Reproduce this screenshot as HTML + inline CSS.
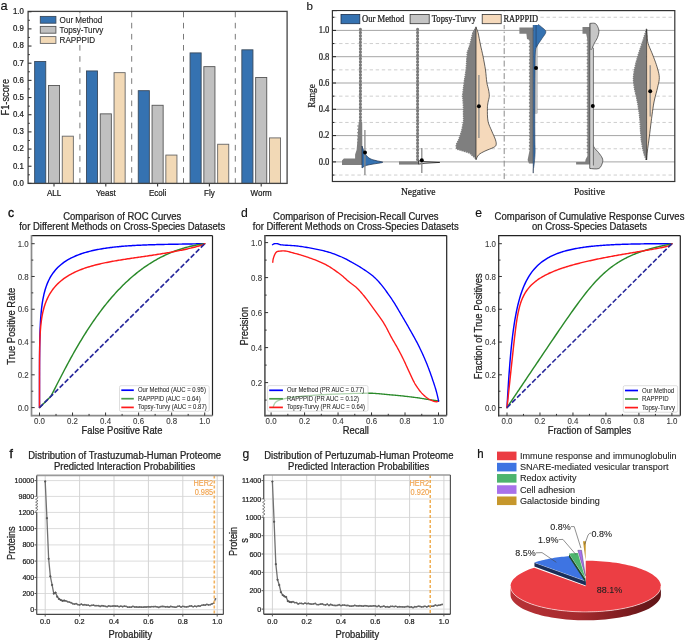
<!DOCTYPE html>
<html><head><meta charset="utf-8"><title>Figure</title>
<style>
html,body{margin:0;padding:0;background:#fff;}
body{width:685px;height:641px;overflow:hidden;font-family:"Liberation Sans", sans-serif;}
svg{display:block;will-change:transform;}
</style></head>
<body>
<svg width="685" height="641" viewBox="0 0 685 641">
<rect x="0" y="0" width="685" height="641" fill="#ffffff"/>
<text x="0.50" y="9.90" font-family="'Liberation Sans', sans-serif" font-size="12.8" text-anchor="start" fill="#111" stroke="#111" stroke-width="0.15" transform="translate(0.50 9.90) rotate(0) scale(1 1.05) translate(-0.50 -9.90)" >a</text>
<line x1="79.90" y1="11.70" x2="79.90" y2="183.40" stroke="#7a7a7a" stroke-width="1.0" stroke-dasharray="5.6 5.5"/>
<line x1="131.70" y1="11.70" x2="131.70" y2="183.40" stroke="#7a7a7a" stroke-width="1.0" stroke-dasharray="5.6 5.5"/>
<line x1="183.50" y1="11.70" x2="183.50" y2="183.40" stroke="#7a7a7a" stroke-width="1.0" stroke-dasharray="5.6 5.5"/>
<line x1="235.30" y1="11.70" x2="235.30" y2="183.40" stroke="#7a7a7a" stroke-width="1.0" stroke-dasharray="5.6 5.5"/>
<rect x="34.65" y="61.49" width="11.10" height="121.91" fill="#3572B1" stroke="#3a4a5c" stroke-width="0.9" />
<rect x="48.45" y="85.53" width="11.10" height="97.87" fill="#C0C0C0" stroke="#555" stroke-width="0.9" />
<rect x="62.25" y="136.18" width="11.10" height="47.22" fill="#F2D9B6" stroke="#666" stroke-width="0.9" />
<line x1="54.00" y1="183.40" x2="54.00" y2="186.60" stroke="#333" stroke-width="1.1" />
<text x="54.00" y="196.20" font-family="'Liberation Sans', sans-serif" font-size="8.0" text-anchor="middle" fill="#222" stroke="#222" stroke-width="0.22" transform="translate(54.00 196.20) rotate(0) scale(1 1.1) translate(-54.00 -196.20)" >ALL</text>
<rect x="86.45" y="70.94" width="11.10" height="112.46" fill="#3572B1" stroke="#3a4a5c" stroke-width="0.9" />
<rect x="100.25" y="113.86" width="11.10" height="69.54" fill="#C0C0C0" stroke="#555" stroke-width="0.9" />
<rect x="114.05" y="72.65" width="11.10" height="110.75" fill="#F2D9B6" stroke="#666" stroke-width="0.9" />
<line x1="105.80" y1="183.40" x2="105.80" y2="186.60" stroke="#333" stroke-width="1.1" />
<text x="105.80" y="196.20" font-family="'Liberation Sans', sans-serif" font-size="8.0" text-anchor="middle" fill="#222" stroke="#222" stroke-width="0.22" transform="translate(105.80 196.20) rotate(0) scale(1 1.1) translate(-105.80 -196.20)" >Yeast</text>
<rect x="138.25" y="90.68" width="11.10" height="92.72" fill="#3572B1" stroke="#3a4a5c" stroke-width="0.9" />
<rect x="152.05" y="105.28" width="11.10" height="78.12" fill="#C0C0C0" stroke="#555" stroke-width="0.9" />
<rect x="165.85" y="155.07" width="11.10" height="28.33" fill="#F2D9B6" stroke="#666" stroke-width="0.9" />
<line x1="157.60" y1="183.40" x2="157.60" y2="186.60" stroke="#333" stroke-width="1.1" />
<text x="157.60" y="196.20" font-family="'Liberation Sans', sans-serif" font-size="8.0" text-anchor="middle" fill="#222" stroke="#222" stroke-width="0.22" transform="translate(157.60 196.20) rotate(0) scale(1 1.1) translate(-157.60 -196.20)" >Ecoli</text>
<rect x="190.05" y="52.91" width="11.10" height="130.49" fill="#3572B1" stroke="#3a4a5c" stroke-width="0.9" />
<rect x="203.85" y="66.64" width="11.10" height="116.76" fill="#C0C0C0" stroke="#555" stroke-width="0.9" />
<rect x="217.65" y="144.25" width="11.10" height="39.15" fill="#F2D9B6" stroke="#666" stroke-width="0.9" />
<line x1="209.40" y1="183.40" x2="209.40" y2="186.60" stroke="#333" stroke-width="1.1" />
<text x="209.40" y="196.20" font-family="'Liberation Sans', sans-serif" font-size="8.0" text-anchor="middle" fill="#222" stroke="#222" stroke-width="0.22" transform="translate(209.40 196.20) rotate(0) scale(1 1.1) translate(-209.40 -196.20)" >Fly</text>
<rect x="241.85" y="49.82" width="11.10" height="133.58" fill="#3572B1" stroke="#3a4a5c" stroke-width="0.9" />
<rect x="255.65" y="77.46" width="11.10" height="105.94" fill="#C0C0C0" stroke="#555" stroke-width="0.9" />
<rect x="269.45" y="137.90" width="11.10" height="45.50" fill="#F2D9B6" stroke="#666" stroke-width="0.9" />
<line x1="261.20" y1="183.40" x2="261.20" y2="186.60" stroke="#333" stroke-width="1.1" />
<text x="261.20" y="196.20" font-family="'Liberation Sans', sans-serif" font-size="8.0" text-anchor="middle" fill="#222" stroke="#222" stroke-width="0.22" transform="translate(261.20 196.20) rotate(0) scale(1 1.1) translate(-261.20 -196.20)" >Worm</text>
<rect x="28.10" y="11.40" width="259.00" height="172.00" fill="none" stroke="#444" stroke-width="1.3" />
<line x1="28.10" y1="183.40" x2="31.50" y2="183.40" stroke="#333" stroke-width="1.1" />
<text x="23.90" y="185.80" font-family="'Liberation Sans', sans-serif" font-size="7.85" text-anchor="end" fill="#222" stroke="#222" stroke-width="0.22" transform="translate(23.90 185.80) rotate(0) scale(1 1.1) translate(-23.90 -185.80)" >0.0</text>
<line x1="28.10" y1="166.23" x2="31.50" y2="166.23" stroke="#333" stroke-width="1.1" />
<text x="23.90" y="168.63" font-family="'Liberation Sans', sans-serif" font-size="7.85" text-anchor="end" fill="#222" stroke="#222" stroke-width="0.22" transform="translate(23.90 168.63) rotate(0) scale(1 1.1) translate(-23.90 -168.63)" >0.1</text>
<line x1="28.10" y1="149.06" x2="31.50" y2="149.06" stroke="#333" stroke-width="1.1" />
<text x="23.90" y="151.46" font-family="'Liberation Sans', sans-serif" font-size="7.85" text-anchor="end" fill="#222" stroke="#222" stroke-width="0.22" transform="translate(23.90 151.46) rotate(0) scale(1 1.1) translate(-23.90 -151.46)" >0.2</text>
<line x1="28.10" y1="131.89" x2="31.50" y2="131.89" stroke="#333" stroke-width="1.1" />
<text x="23.90" y="134.29" font-family="'Liberation Sans', sans-serif" font-size="7.85" text-anchor="end" fill="#222" stroke="#222" stroke-width="0.22" transform="translate(23.90 134.29) rotate(0) scale(1 1.1) translate(-23.90 -134.29)" >0.3</text>
<line x1="28.10" y1="114.72" x2="31.50" y2="114.72" stroke="#333" stroke-width="1.1" />
<text x="23.90" y="117.12" font-family="'Liberation Sans', sans-serif" font-size="7.85" text-anchor="end" fill="#222" stroke="#222" stroke-width="0.22" transform="translate(23.90 117.12) rotate(0) scale(1 1.1) translate(-23.90 -117.12)" >0.4</text>
<line x1="28.10" y1="97.55" x2="31.50" y2="97.55" stroke="#333" stroke-width="1.1" />
<text x="23.90" y="99.95" font-family="'Liberation Sans', sans-serif" font-size="7.85" text-anchor="end" fill="#222" stroke="#222" stroke-width="0.22" transform="translate(23.90 99.95) rotate(0) scale(1 1.1) translate(-23.90 -99.95)" >0.5</text>
<line x1="28.10" y1="80.38" x2="31.50" y2="80.38" stroke="#333" stroke-width="1.1" />
<text x="23.90" y="82.78" font-family="'Liberation Sans', sans-serif" font-size="7.85" text-anchor="end" fill="#222" stroke="#222" stroke-width="0.22" transform="translate(23.90 82.78) rotate(0) scale(1 1.1) translate(-23.90 -82.78)" >0.6</text>
<line x1="28.10" y1="63.21" x2="31.50" y2="63.21" stroke="#333" stroke-width="1.1" />
<text x="23.90" y="65.61" font-family="'Liberation Sans', sans-serif" font-size="7.85" text-anchor="end" fill="#222" stroke="#222" stroke-width="0.22" transform="translate(23.90 65.61) rotate(0) scale(1 1.1) translate(-23.90 -65.61)" >0.7</text>
<line x1="28.10" y1="46.04" x2="31.50" y2="46.04" stroke="#333" stroke-width="1.1" />
<text x="23.90" y="48.44" font-family="'Liberation Sans', sans-serif" font-size="7.85" text-anchor="end" fill="#222" stroke="#222" stroke-width="0.22" transform="translate(23.90 48.44) rotate(0) scale(1 1.1) translate(-23.90 -48.44)" >0.8</text>
<line x1="28.10" y1="28.87" x2="31.50" y2="28.87" stroke="#333" stroke-width="1.1" />
<text x="23.90" y="31.27" font-family="'Liberation Sans', sans-serif" font-size="7.85" text-anchor="end" fill="#222" stroke="#222" stroke-width="0.22" transform="translate(23.90 31.27) rotate(0) scale(1 1.1) translate(-23.90 -31.27)" >0.9</text>
<line x1="28.10" y1="11.70" x2="31.50" y2="11.70" stroke="#333" stroke-width="1.1" />
<text x="23.90" y="14.10" font-family="'Liberation Sans', sans-serif" font-size="7.85" text-anchor="end" fill="#222" stroke="#222" stroke-width="0.22" transform="translate(23.90 14.10) rotate(0) scale(1 1.1) translate(-23.90 -14.10)" >1.0</text>
<line x1="28.10" y1="174.81" x2="29.90" y2="174.81" stroke="#333" stroke-width="1.0" />
<line x1="28.10" y1="157.65" x2="29.90" y2="157.65" stroke="#333" stroke-width="1.0" />
<line x1="28.10" y1="140.47" x2="29.90" y2="140.47" stroke="#333" stroke-width="1.0" />
<line x1="28.10" y1="123.31" x2="29.90" y2="123.31" stroke="#333" stroke-width="1.0" />
<line x1="28.10" y1="106.13" x2="29.90" y2="106.13" stroke="#333" stroke-width="1.0" />
<line x1="28.10" y1="88.96" x2="29.90" y2="88.96" stroke="#333" stroke-width="1.0" />
<line x1="28.10" y1="71.79" x2="29.90" y2="71.79" stroke="#333" stroke-width="1.0" />
<line x1="28.10" y1="54.62" x2="29.90" y2="54.62" stroke="#333" stroke-width="1.0" />
<line x1="28.10" y1="37.45" x2="29.90" y2="37.45" stroke="#333" stroke-width="1.0" />
<line x1="28.10" y1="20.28" x2="29.90" y2="20.28" stroke="#333" stroke-width="1.0" />
<text x="9.20" y="97.20" font-family="'Liberation Sans', sans-serif" font-size="9.3" text-anchor="middle" fill="#222" stroke="#222" stroke-width="0.22" transform="translate(9.20 97.20) rotate(-90) scale(1 1.1) translate(-9.20 -97.20)" >F1-score</text>
<rect x="37.00" y="13.00" width="70.00" height="31.50" fill="#ffffff" stroke="none" stroke-width="1" fill-opacity="0.6"/>
<rect x="40.30" y="16.40" width="15.60" height="6.80" fill="#3572B1" stroke="#3a4a5c" stroke-width="0.9" />
<text x="59.60" y="23.00" font-family="'Liberation Sans', sans-serif" font-size="8.1" text-anchor="start" fill="#222" stroke="#222" stroke-width="0.12" transform="translate(59.60 23.00) rotate(0) scale(1 1.1) translate(-59.60 -23.00)" >Our Method</text>
<rect x="40.30" y="26.40" width="15.60" height="6.80" fill="#C0C0C0" stroke="#555" stroke-width="0.9" />
<text x="59.60" y="33.00" font-family="'Liberation Sans', sans-serif" font-size="8.1" text-anchor="start" fill="#222" stroke="#222" stroke-width="0.12" transform="translate(59.60 33.00) rotate(0) scale(1 1.1) translate(-59.60 -33.00)" >Topsy-Turvy</text>
<rect x="40.30" y="36.60" width="15.60" height="6.80" fill="#F2D9B6" stroke="#666" stroke-width="0.9" />
<text x="59.60" y="43.20" font-family="'Liberation Sans', sans-serif" font-size="8.1" text-anchor="start" fill="#222" stroke="#222" stroke-width="0.12" transform="translate(59.60 43.20) rotate(0) scale(1 1.1) translate(-59.60 -43.20)" >RAPPPID</text>
<text x="306.40" y="9.80" font-family="'Liberation Sans', sans-serif" font-size="11.6" text-anchor="start" fill="#111" stroke="#111" stroke-width="0.1" transform="translate(306.40 9.80) rotate(0) scale(1 1.0) translate(-306.40 -9.80)" >b</text>
<line x1="332.40" y1="161.90" x2="674.80" y2="161.90" stroke="#a5a5a5" stroke-width="1.0" />
<line x1="332.40" y1="135.60" x2="674.80" y2="135.60" stroke="#a5a5a5" stroke-width="1.0" />
<line x1="332.40" y1="109.30" x2="674.80" y2="109.30" stroke="#a5a5a5" stroke-width="1.0" />
<line x1="332.40" y1="83.00" x2="674.80" y2="83.00" stroke="#a5a5a5" stroke-width="1.0" />
<line x1="332.40" y1="56.70" x2="674.80" y2="56.70" stroke="#a5a5a5" stroke-width="1.0" />
<line x1="332.40" y1="30.40" x2="674.80" y2="30.40" stroke="#a5a5a5" stroke-width="1.0" />
<line x1="332.40" y1="175.05" x2="674.80" y2="175.05" stroke="#cfcfcf" stroke-width="1.0" stroke-dasharray="3.4 2.7" stroke-dashoffset="-0.6"/>
<line x1="332.40" y1="148.75" x2="674.80" y2="148.75" stroke="#cfcfcf" stroke-width="1.0" stroke-dasharray="3.4 2.7" stroke-dashoffset="-0.6"/>
<line x1="332.40" y1="122.45" x2="674.80" y2="122.45" stroke="#cfcfcf" stroke-width="1.0" stroke-dasharray="3.4 2.7" stroke-dashoffset="-0.6"/>
<line x1="332.40" y1="96.15" x2="674.80" y2="96.15" stroke="#cfcfcf" stroke-width="1.0" stroke-dasharray="3.4 2.7" stroke-dashoffset="-0.6"/>
<line x1="332.40" y1="69.85" x2="674.80" y2="69.85" stroke="#cfcfcf" stroke-width="1.0" stroke-dasharray="3.4 2.7" stroke-dashoffset="-0.6"/>
<line x1="332.40" y1="43.55" x2="674.80" y2="43.55" stroke="#cfcfcf" stroke-width="1.0" stroke-dasharray="3.4 2.7" stroke-dashoffset="-0.6"/>
<line x1="332.40" y1="17.25" x2="674.80" y2="17.25" stroke="#cfcfcf" stroke-width="1.0" stroke-dasharray="3.4 2.7" stroke-dashoffset="-0.6"/>
<line x1="504.20" y1="10.60" x2="504.20" y2="181.50" stroke="#8a8a8a" stroke-width="1.0" stroke-dasharray="6 2.5 1.5 2.5"/>
<line x1="360.40" y1="29.20" x2="360.40" y2="152.00" stroke="#8a8a8a" stroke-width="1.8" />
<line x1="360.40" y1="29.20" x2="360.40" y2="152.00" stroke="#7a7a7a" stroke-width="3.1" stroke-dasharray="0.01 3.25" stroke-linecap="round"/>
<polygon points="342.00,164.90 342.00,160.50 343.90,158.40 355.10,158.40 355.10,154.60 356.60,150.00 357.50,140.00 358.20,128.00 358.80,122.00 362.20,122.00 362.40,164.90" fill="#7f7f7f" stroke="none" stroke-width="1" stroke-linejoin="round" />
<line x1="358.00" y1="126.00" x2="358.00" y2="152.00" stroke="#7f7f7f" stroke-width="1.6" stroke-dasharray="0.01 3.3" stroke-linecap="round"/>
<polygon points="362.00,146.00 362.15,146.42 362.35,147.00 362.59,147.69 362.87,148.44 363.17,149.23 363.50,150.00 363.84,150.79 364.20,151.64 364.59,152.53 365.02,153.40 365.48,154.24 366.00,155.00 366.56,155.70 367.15,156.36 367.78,156.99 368.46,157.57 369.20,158.11 370.00,158.60 370.87,159.03 371.82,159.40 372.82,159.72 373.87,160.02 374.93,160.31 376.00,160.60 377.24,160.89 378.71,161.17 380.20,161.44 381.51,161.70 382.44,161.95 382.80,162.20 382.46,162.45 381.55,162.69 380.26,162.92 378.79,163.16 377.30,163.38 376.00,163.60 374.81,163.81 373.57,164.01 372.32,164.21 371.12,164.41 370.00,164.60 369.00,164.80 368.15,164.99 367.41,165.17 366.75,165.35 366.15,165.54 365.57,165.75 365.00,166.00 364.41,166.31 363.81,166.68 363.25,167.07 362.74,167.45 362.31,167.77 362.00,168.00" fill="#3572B1" stroke="#1d2f4a" stroke-width="0.7" stroke-linejoin="round" />
<line x1="364.90" y1="130.00" x2="364.90" y2="175.00" stroke="#8a8a8a" stroke-width="1.3" />
<circle cx="365.0" cy="152.6" r="2.0" fill="#000"/>
<line x1="417.60" y1="29.20" x2="417.60" y2="160.00" stroke="#8a8a8a" stroke-width="1.8" />
<line x1="417.60" y1="29.20" x2="417.60" y2="160.00" stroke="#7a7a7a" stroke-width="3.1" stroke-dasharray="0.01 3.25" stroke-linecap="round"/>
<polygon points="399.00,161.40 418.50,161.40 418.50,164.60 399.00,164.60" fill="#7f7f7f" stroke="none" stroke-width="1" stroke-linejoin="round" />
<polygon points="418.50,160.80 425.00,161.60 439.80,162.40 425.00,163.30 418.50,164.20" fill="#c8c8c8" stroke="#111" stroke-width="0.7" stroke-linejoin="round" />
<line x1="421.80" y1="148.00" x2="421.80" y2="173.00" stroke="#8a8a8a" stroke-width="1.3" />
<circle cx="421.8" cy="160.3" r="2.0" fill="#000"/>
<polygon points="476.00,27.50 473.00,32.50 470.00,45.00 467.40,52.40 466.20,70.00 464.30,82.30 462.80,94.80 463.50,105.00 463.70,121.00 461.80,131.00 458.70,140.00 456.20,145.00 456.80,149.00 463.70,151.00 469.90,153.00 473.00,156.00 476.00,158.50" fill="#7f7f7f" stroke="none" stroke-width="1" stroke-linejoin="round" />
<polyline points="476.00,27.50 473.00,32.50 470.00,45.00 467.40,52.40 466.20,70.00 464.30,82.30 462.80,94.80 463.50,105.00 463.70,121.00 461.80,131.00 458.70,140.00 456.20,145.00 456.80,149.00 463.70,151.00 469.90,153.00 473.00,156.00 476.00,158.50" fill="none" stroke="#7f7f7f" stroke-width="1.8" stroke-dasharray="0.01 2.2" stroke-linecap="round"/>
<polygon points="476.00,27.50 476.35,28.22 476.84,29.22 477.42,30.61 478.00,32.50 478.59,35.13 479.22,38.36 479.86,41.79 480.50,45.00 481.12,47.83 481.75,50.52 482.38,53.25 483.00,56.20 483.65,59.50 484.32,63.03 484.96,66.59 485.50,70.00 485.90,73.29 486.19,76.53 486.47,79.58 486.80,82.30 487.24,84.58 487.74,86.53 488.22,88.29 488.60,90.00 488.90,91.65 489.14,93.19 489.29,94.68 489.30,96.20 489.10,97.77 488.73,99.35 488.32,100.93 488.00,102.50 487.77,103.91 487.58,105.21 487.45,106.71 487.40,108.70 487.39,111.44 487.42,114.72 487.60,118.11 488.00,121.20 488.73,123.88 489.71,126.38 490.78,128.76 491.80,131.10 492.80,133.47 493.85,135.81 494.80,137.99 495.50,139.90 495.94,141.48 496.19,142.79 496.24,143.91 496.10,144.90 495.84,145.67 495.43,146.23 494.73,146.75 493.60,147.40 491.80,148.24 489.48,149.18 487.04,150.15 484.90,151.10 483.09,151.99 481.42,152.87 479.95,153.78 478.70,154.80 477.72,156.08 476.96,157.53 476.40,158.87 476.00,159.80" fill="#F5D9BB" stroke="#222" stroke-width="0.7" stroke-linejoin="round" />
<line x1="478.90" y1="75.00" x2="478.90" y2="138.00" stroke="#8a8a8a" stroke-width="1.3" />
<circle cx="478.9" cy="106.3" r="2.0" fill="#000"/>
<polygon points="519.40,27.50 533.20,27.50 533.20,163.50 529.00,163.50 527.60,160.00 528.40,156.00 529.60,150.00 529.60,40.00 527.00,39.00 526.40,33.70 519.40,33.70" fill="#7f7f7f" stroke="none" stroke-width="1" stroke-linejoin="round" />
<line x1="529.60" y1="40.00" x2="529.60" y2="152.00" stroke="#7f7f7f" stroke-width="1.6" stroke-dasharray="0.01 3.3" stroke-linecap="round"/>
<rect x="534.60" y="24.00" width="2.60" height="89.30" fill="#c6c6c6" stroke="#9a9a9a" stroke-width="0.4" />
<polygon points="533.20,23.90 533.87,23.83 534.82,23.71 535.91,23.68 537.00,23.90 538.08,24.42 539.21,25.15 540.37,26.03 541.50,27.00 542.80,28.04 544.22,29.18 545.39,30.43 545.90,31.80 545.53,33.32 544.54,34.97 543.25,36.71 542.00,38.50 540.75,40.40 539.36,42.41 538.04,44.39 537.00,46.20 536.33,47.50 535.91,48.46 535.64,49.74 535.40,52.00 535.21,55.13 535.11,58.86 535.06,63.67 535.00,70.00 534.93,78.69 534.87,89.25 534.82,100.19 534.80,110.00 534.80,118.62 534.82,126.75 534.86,134.00 534.90,140.00 534.96,144.31 535.05,147.25 535.11,149.56 535.10,152.00 535.00,154.72 534.83,157.34 534.62,159.79 534.40,162.00 534.15,164.22 533.87,166.41 533.60,168.01 533.40,168.50 533.29,170.41 533.24,173.12 533.22,171.41 533.20,160.00 533.19,131.88 533.19,91.72 533.20,51.82 533.20,24.50" fill="#3572B1" stroke="#1d2f4a" stroke-width="0.55" stroke-linejoin="round" />
<line x1="536.10" y1="24.50" x2="536.10" y2="47.00" stroke="#1d2f4a" stroke-width="0.5" />
<circle cx="536.0" cy="67.9" r="2.0" fill="#000"/>
<polygon points="582.50,27.10 589.80,27.10 589.80,164.60 576.10,164.60 576.10,162.00 585.20,162.00 585.60,159.50 587.40,156.00 587.40,40.00 586.20,33.70 582.50,33.70" fill="#7f7f7f" stroke="none" stroke-width="1" stroke-linejoin="round" />
<line x1="587.40" y1="40.00" x2="587.40" y2="155.00" stroke="#7f7f7f" stroke-width="1.6" stroke-dasharray="0.01 3.3" stroke-linecap="round"/>
<polygon points="589.90,23.40 590.88,23.33 592.29,23.21 593.78,23.18 595.00,23.40 595.86,23.91 596.54,24.64 597.10,25.53 597.60,26.50 598.08,27.57 598.50,28.76 598.80,30.05 598.90,31.40 598.78,32.85 598.47,34.41 598.03,35.99 597.50,37.50 596.85,38.92 596.06,40.29 595.24,41.64 594.50,43.00 593.85,44.35 593.23,45.69 592.67,47.05 592.20,48.50 591.84,49.62 591.57,50.53 591.36,52.05 591.20,55.00 591.09,59.60 591.04,65.41 591.02,72.26 591.00,80.00 590.98,89.51 590.97,100.56 590.97,111.34 591.00,120.00 591.00,125.81 591.00,129.84 591.07,132.94 591.30,136.00 591.70,139.14 592.22,141.93 592.88,144.41 593.70,146.60 594.76,148.41 596.02,149.87 597.32,151.16 598.50,152.50 599.58,153.93 600.63,155.34 601.54,156.70 602.20,158.00 602.61,159.16 602.81,160.22 602.78,161.29 602.50,162.50 602.00,164.04 601.28,165.78 600.27,167.39 598.90,168.50 596.82,168.92 594.17,168.88 591.64,168.64 589.90,168.50" fill="#C6C6C6" stroke="#333" stroke-width="0.7" stroke-linejoin="round" />
<rect x="590.00" y="50.00" width="3.60" height="118.00" fill="#d0d0d0" stroke="none" stroke-width="1" />
<line x1="593.40" y1="47.80" x2="593.40" y2="165.50" stroke="#555" stroke-width="0.8" />
<line x1="589.90" y1="23.60" x2="589.90" y2="168.40" stroke="#555" stroke-width="0.6" />
<circle cx="592.8" cy="105.9" r="2.0" fill="#000"/>
<polygon points="646.50,29.50 646.15,30.65 645.64,32.29 645.07,34.16 644.50,36.00 643.98,37.69 643.47,39.38 642.89,41.23 642.20,43.40 641.32,46.02 640.30,48.98 639.26,52.07 638.30,55.10 637.43,58.05 636.61,61.02 635.85,63.95 635.20,66.80 634.64,69.53 634.15,72.17 633.79,74.78 633.60,77.40 633.60,79.95 633.76,82.43 634.06,85.02 634.50,87.90 635.14,91.12 635.96,94.58 636.83,98.23 637.60,102.00 638.26,105.89 638.87,109.92 639.42,114.09 639.90,118.40 640.25,123.00 640.50,127.85 640.75,132.62 641.10,137.00 641.58,140.94 642.14,144.60 642.76,147.96 643.40,151.00 644.15,153.81 644.99,156.38 645.76,158.50 646.30,160.00 646.60,160.00 646.60,29.50" fill="#7f7f7f" stroke="none" stroke-width="1" stroke-linejoin="round" />
<polyline points="646.50,29.50 646.15,30.65 645.64,32.29 645.07,34.16 644.50,36.00 643.98,37.69 643.47,39.38 642.89,41.23 642.20,43.40 641.32,46.02 640.30,48.98 639.26,52.07 638.30,55.10 637.43,58.05 636.61,61.02 635.85,63.95 635.20,66.80 634.64,69.53 634.15,72.17 633.79,74.78 633.60,77.40 633.60,79.95 633.76,82.43 634.06,85.02 634.50,87.90 635.14,91.12 635.96,94.58 636.83,98.23 637.60,102.00 638.26,105.89 638.87,109.92 639.42,114.09 639.90,118.40 640.25,123.00 640.50,127.85 640.75,132.62 641.10,137.00 641.58,140.94 642.14,144.60 642.76,147.96 643.40,151.00 644.15,153.81 644.99,156.38 645.76,158.50 646.30,160.00" fill="none" stroke="#7f7f7f" stroke-width="1.8" stroke-dasharray="0.01 2.2" stroke-linecap="round"/>
<polygon points="646.60,29.50 646.68,30.37 646.78,31.59 646.91,33.02 647.05,34.54 647.20,36.00 647.30,37.35 647.36,38.69 647.45,40.09 647.67,41.63 648.10,43.40 648.80,45.46 649.73,47.77 650.77,50.21 651.83,52.69 652.80,55.10 653.70,57.46 654.61,59.83 655.48,62.20 656.29,64.53 657.00,66.80 657.65,68.99 658.25,71.12 658.77,73.22 659.13,75.30 659.30,77.40 659.23,79.45 658.96,81.43 658.54,83.45 658.03,85.57 657.50,87.90 656.89,90.45 656.17,93.17 655.40,96.02 654.66,98.98 654.00,102.00 653.45,105.10 652.96,108.29 652.50,111.57 652.06,114.94 651.60,118.40 651.13,122.05 650.65,125.90 650.19,129.79 649.73,133.54 649.30,137.00 648.88,140.17 648.46,143.17 648.06,145.98 647.70,148.59 647.40,151.00 647.16,153.26 646.96,155.39 646.81,157.29 646.69,158.86 646.60,160.00" fill="#F5D9BB" stroke="#222" stroke-width="0.7" stroke-linejoin="round" />
<line x1="650.20" y1="65.20" x2="650.20" y2="116.40" stroke="#8a8a8a" stroke-width="1.3" />
<circle cx="650.2" cy="91.3" r="2.0" fill="#000"/>
<rect x="332.40" y="10.60" width="342.40" height="170.90" fill="none" stroke="#333" stroke-width="1.2" />
<line x1="332.40" y1="175.05" x2="334.40" y2="175.05" stroke="#222" stroke-width="1.0" />
<line x1="332.40" y1="161.90" x2="336.00" y2="161.90" stroke="#222" stroke-width="1.0" />
<text x="329.40" y="164.80" font-family="'Liberation Serif', serif" font-size="8.6" text-anchor="end" fill="#222" stroke="#222" stroke-width="0.22" transform="translate(329.40 164.80) rotate(0) scale(1 1.1) translate(-329.40 -164.80)" >0.0</text>
<line x1="332.40" y1="148.75" x2="334.40" y2="148.75" stroke="#222" stroke-width="1.0" />
<line x1="332.40" y1="135.60" x2="336.00" y2="135.60" stroke="#222" stroke-width="1.0" />
<text x="329.40" y="138.50" font-family="'Liberation Serif', serif" font-size="8.6" text-anchor="end" fill="#222" stroke="#222" stroke-width="0.22" transform="translate(329.40 138.50) rotate(0) scale(1 1.1) translate(-329.40 -138.50)" >0.2</text>
<line x1="332.40" y1="122.45" x2="334.40" y2="122.45" stroke="#222" stroke-width="1.0" />
<line x1="332.40" y1="109.30" x2="336.00" y2="109.30" stroke="#222" stroke-width="1.0" />
<text x="329.40" y="112.20" font-family="'Liberation Serif', serif" font-size="8.6" text-anchor="end" fill="#222" stroke="#222" stroke-width="0.22" transform="translate(329.40 112.20) rotate(0) scale(1 1.1) translate(-329.40 -112.20)" >0.4</text>
<line x1="332.40" y1="96.15" x2="334.40" y2="96.15" stroke="#222" stroke-width="1.0" />
<line x1="332.40" y1="83.00" x2="336.00" y2="83.00" stroke="#222" stroke-width="1.0" />
<text x="329.40" y="85.90" font-family="'Liberation Serif', serif" font-size="8.6" text-anchor="end" fill="#222" stroke="#222" stroke-width="0.22" transform="translate(329.40 85.90) rotate(0) scale(1 1.1) translate(-329.40 -85.90)" >0.6</text>
<line x1="332.40" y1="69.85" x2="334.40" y2="69.85" stroke="#222" stroke-width="1.0" />
<line x1="332.40" y1="56.70" x2="336.00" y2="56.70" stroke="#222" stroke-width="1.0" />
<text x="329.40" y="59.60" font-family="'Liberation Serif', serif" font-size="8.6" text-anchor="end" fill="#222" stroke="#222" stroke-width="0.22" transform="translate(329.40 59.60) rotate(0) scale(1 1.1) translate(-329.40 -59.60)" >0.8</text>
<line x1="332.40" y1="43.55" x2="334.40" y2="43.55" stroke="#222" stroke-width="1.0" />
<line x1="332.40" y1="30.40" x2="336.00" y2="30.40" stroke="#222" stroke-width="1.0" />
<text x="329.40" y="33.30" font-family="'Liberation Serif', serif" font-size="8.6" text-anchor="end" fill="#222" stroke="#222" stroke-width="0.22" transform="translate(329.40 33.30) rotate(0) scale(1 1.1) translate(-329.40 -33.30)" >1.0</text>
<line x1="332.40" y1="17.25" x2="334.40" y2="17.25" stroke="#222" stroke-width="1.0" />
<text x="315.40" y="96.00" font-family="'Liberation Serif', serif" font-size="9.3" text-anchor="middle" fill="#222" stroke="#222" stroke-width="0.22" transform="translate(315.40 96.00) rotate(-90) scale(1 1.1) translate(-315.40 -96.00)" >Range</text>
<text x="418.20" y="195.10" font-family="'Liberation Serif', serif" font-size="9.6" text-anchor="middle" fill="#222" stroke="#222" stroke-width="0.22" transform="translate(418.20 195.10) rotate(0) scale(1 1.1) translate(-418.20 -195.10)" >Negative</text>
<text x="589.50" y="195.10" font-family="'Liberation Serif', serif" font-size="9.6" text-anchor="middle" fill="#222" stroke="#222" stroke-width="0.22" transform="translate(589.50 195.10) rotate(0) scale(1 1.1) translate(-589.50 -195.10)" >Positive</text>
<rect x="337.00" y="11.40" width="201.00" height="13.60" fill="#ffffff" stroke="none" stroke-width="1" />
<rect x="341.00" y="14.40" width="18.80" height="9.30" fill="#3572B1" stroke="#1d2f4a" stroke-width="0.8" />
<text x="362.00" y="22.30" font-family="'Liberation Serif', serif" font-size="8.6" text-anchor="start" fill="#222" stroke="#222" stroke-width="0.22" transform="translate(362.00 22.30) rotate(0) scale(1 1.1) translate(-362.00 -22.30)" >Our Method</text>
<rect x="410.10" y="14.40" width="19.10" height="9.30" fill="#C4C4C4" stroke="#333" stroke-width="0.8" />
<text x="431.70" y="22.30" font-family="'Liberation Serif', serif" font-size="8.6" text-anchor="start" fill="#222" stroke="#222" stroke-width="0.22" transform="translate(431.70 22.30) rotate(0) scale(1 1.1) translate(-431.70 -22.30)" >Topsy-Turvy</text>
<rect x="482.20" y="14.40" width="19.00" height="9.30" fill="#F5D9BB" stroke="#333" stroke-width="0.8" />
<text x="503.40" y="22.30" font-family="'Liberation Serif', serif" font-size="8.45" text-anchor="start" fill="#222" stroke="#222" stroke-width="0.22" transform="translate(503.40 22.30) rotate(0) scale(1 1.1) translate(-503.40 -22.30)" >RAPPPID</text>
<line x1="31.50" y1="235.60" x2="212.50" y2="235.60" stroke="#222" stroke-width="1.2" />
<line x1="212.50" y1="235.60" x2="212.50" y2="415.70" stroke="#222" stroke-width="1.2" />
<line x1="31.50" y1="415.70" x2="212.50" y2="415.70" stroke="#8a8a8a" stroke-width="1.7" />
<line x1="31.50" y1="235.10" x2="31.50" y2="416.55" stroke="#8a8a8a" stroke-width="1.7" />
<line x1="39.50" y1="415.70" x2="39.50" y2="412.50" stroke="#333" stroke-width="1.0" />
<text x="39.50" y="424.30" font-family="'Liberation Sans', sans-serif" font-size="7.9" text-anchor="middle" fill="#3a3a3a" stroke="#3a3a3a" stroke-width="0.1" transform="translate(39.50 424.30) rotate(0) scale(1 1.1) translate(-39.50 -424.30)" >0.0</text>
<line x1="56.02" y1="415.70" x2="56.02" y2="413.90" stroke="#333" stroke-width="1.0" />
<line x1="72.54" y1="415.70" x2="72.54" y2="412.50" stroke="#333" stroke-width="1.0" />
<text x="72.54" y="424.30" font-family="'Liberation Sans', sans-serif" font-size="7.9" text-anchor="middle" fill="#3a3a3a" stroke="#3a3a3a" stroke-width="0.1" transform="translate(72.54 424.30) rotate(0) scale(1 1.1) translate(-72.54 -424.30)" >0.2</text>
<line x1="89.06" y1="415.70" x2="89.06" y2="413.90" stroke="#333" stroke-width="1.0" />
<line x1="105.58" y1="415.70" x2="105.58" y2="412.50" stroke="#333" stroke-width="1.0" />
<text x="105.58" y="424.30" font-family="'Liberation Sans', sans-serif" font-size="7.9" text-anchor="middle" fill="#3a3a3a" stroke="#3a3a3a" stroke-width="0.1" transform="translate(105.58 424.30) rotate(0) scale(1 1.1) translate(-105.58 -424.30)" >0.4</text>
<line x1="122.10" y1="415.70" x2="122.10" y2="413.90" stroke="#333" stroke-width="1.0" />
<line x1="138.62" y1="415.70" x2="138.62" y2="412.50" stroke="#333" stroke-width="1.0" />
<text x="138.62" y="424.30" font-family="'Liberation Sans', sans-serif" font-size="7.9" text-anchor="middle" fill="#3a3a3a" stroke="#3a3a3a" stroke-width="0.1" transform="translate(138.62 424.30) rotate(0) scale(1 1.1) translate(-138.62 -424.30)" >0.6</text>
<line x1="155.14" y1="415.70" x2="155.14" y2="413.90" stroke="#333" stroke-width="1.0" />
<line x1="171.66" y1="415.70" x2="171.66" y2="412.50" stroke="#333" stroke-width="1.0" />
<text x="171.66" y="424.30" font-family="'Liberation Sans', sans-serif" font-size="7.9" text-anchor="middle" fill="#3a3a3a" stroke="#3a3a3a" stroke-width="0.1" transform="translate(171.66 424.30) rotate(0) scale(1 1.1) translate(-171.66 -424.30)" >0.8</text>
<line x1="188.18" y1="415.70" x2="188.18" y2="413.90" stroke="#333" stroke-width="1.0" />
<line x1="204.70" y1="415.70" x2="204.70" y2="412.50" stroke="#333" stroke-width="1.0" />
<text x="204.70" y="424.30" font-family="'Liberation Sans', sans-serif" font-size="7.9" text-anchor="middle" fill="#3a3a3a" stroke="#3a3a3a" stroke-width="0.1" transform="translate(204.70 424.30) rotate(0) scale(1 1.1) translate(-204.70 -424.30)" >1.0</text>
<line x1="31.50" y1="407.60" x2="34.70" y2="407.60" stroke="#333" stroke-width="1.0" />
<text x="28.70" y="410.80" font-family="'Liberation Sans', sans-serif" font-size="7.9" text-anchor="end" fill="#3a3a3a" stroke="#3a3a3a" stroke-width="0.1" transform="translate(28.70 410.80) rotate(0) scale(1 1.1) translate(-28.70 -410.80)" >0.0</text>
<line x1="31.50" y1="374.82" x2="34.70" y2="374.82" stroke="#333" stroke-width="1.0" />
<text x="28.70" y="378.02" font-family="'Liberation Sans', sans-serif" font-size="7.9" text-anchor="end" fill="#3a3a3a" stroke="#3a3a3a" stroke-width="0.1" transform="translate(28.70 378.02) rotate(0) scale(1 1.1) translate(-28.70 -378.02)" >0.2</text>
<line x1="31.50" y1="342.04" x2="34.70" y2="342.04" stroke="#333" stroke-width="1.0" />
<text x="28.70" y="345.24" font-family="'Liberation Sans', sans-serif" font-size="7.9" text-anchor="end" fill="#3a3a3a" stroke="#3a3a3a" stroke-width="0.1" transform="translate(28.70 345.24) rotate(0) scale(1 1.1) translate(-28.70 -345.24)" >0.4</text>
<line x1="31.50" y1="309.26" x2="34.70" y2="309.26" stroke="#333" stroke-width="1.0" />
<text x="28.70" y="312.46" font-family="'Liberation Sans', sans-serif" font-size="7.9" text-anchor="end" fill="#3a3a3a" stroke="#3a3a3a" stroke-width="0.1" transform="translate(28.70 312.46) rotate(0) scale(1 1.1) translate(-28.70 -312.46)" >0.6</text>
<line x1="31.50" y1="276.48" x2="34.70" y2="276.48" stroke="#333" stroke-width="1.0" />
<text x="28.70" y="279.68" font-family="'Liberation Sans', sans-serif" font-size="7.9" text-anchor="end" fill="#3a3a3a" stroke="#3a3a3a" stroke-width="0.1" transform="translate(28.70 279.68) rotate(0) scale(1 1.1) translate(-28.70 -279.68)" >0.8</text>
<line x1="31.50" y1="243.70" x2="34.70" y2="243.70" stroke="#333" stroke-width="1.0" />
<text x="28.70" y="246.90" font-family="'Liberation Sans', sans-serif" font-size="7.9" text-anchor="end" fill="#3a3a3a" stroke="#3a3a3a" stroke-width="0.1" transform="translate(28.70 246.90) rotate(0) scale(1 1.1) translate(-28.70 -246.90)" >1.0</text>
<line x1="31.50" y1="391.21" x2="33.30" y2="391.21" stroke="#333" stroke-width="1.0" />
<line x1="31.50" y1="358.43" x2="33.30" y2="358.43" stroke="#333" stroke-width="1.0" />
<line x1="31.50" y1="325.65" x2="33.30" y2="325.65" stroke="#333" stroke-width="1.0" />
<line x1="31.50" y1="292.87" x2="33.30" y2="292.87" stroke="#333" stroke-width="1.0" />
<line x1="31.50" y1="260.09" x2="33.30" y2="260.09" stroke="#333" stroke-width="1.0" />
<text x="122.00" y="434.50" font-family="'Liberation Sans', sans-serif" font-size="9.4" text-anchor="middle" fill="#222" stroke="#222" stroke-width="0.22" transform="translate(122.00 434.50) rotate(0) scale(1 1.1) translate(-122.00 -434.50)" >False Positive Rate</text>
<text x="14.80" y="326.25" font-family="'Liberation Sans', sans-serif" font-size="9.4" text-anchor="middle" fill="#222" stroke="#222" stroke-width="0.22" transform="translate(14.80 326.25) rotate(-90) scale(1 1.1) translate(-14.80 -326.25)" >True Positive Rate</text>
<text x="122.20" y="219.90" font-family="'Liberation Sans', sans-serif" font-size="9.5" text-anchor="middle" fill="#222" stroke="#222" stroke-width="0.22" transform="translate(122.20 219.90) rotate(0) scale(1 1.1) translate(-122.20 -219.90)" >Comparison of ROC Curves</text>
<text x="122.20" y="229.90" font-family="'Liberation Sans', sans-serif" font-size="9.5" text-anchor="middle" fill="#222" stroke="#222" stroke-width="0.22" transform="translate(122.20 229.90) rotate(0) scale(1 1.1) translate(-122.20 -229.90)" >for Different Methods on Cross-Species Datasets</text>
<text x="8.00" y="217.30" font-family="'Liberation Sans', sans-serif" font-size="12.2" text-anchor="start" fill="#111" stroke="#111" stroke-width="0.4" transform="translate(8.00 217.30) rotate(0) scale(1 1.0) translate(-8.00 -217.30)" >c</text>
<polyline points="39.50,407.60 39.50,403.52 39.50,403.23 39.50,402.93 39.50,402.60 39.50,402.25 39.50,401.88 39.50,401.49 39.50,401.07 39.50,400.63 39.50,400.15 39.50,399.65 39.50,399.12 39.50,398.55 39.50,397.95 39.50,397.31 39.50,396.64 39.50,395.92 39.50,395.16 39.50,394.36 39.50,393.51 39.50,392.62 39.50,391.67 39.50,390.67 39.50,389.62 39.50,388.51 39.50,387.34 39.50,386.10 39.50,384.80 39.51,383.44 39.51,382.01 39.51,380.50 39.51,378.92 39.51,377.26 39.52,375.53 39.52,373.71 39.52,371.81 39.53,369.83 39.53,367.76 39.54,365.60 39.55,363.35 39.56,361.01 39.58,358.58 39.60,356.05 39.62,353.43 39.65,350.72 39.68,347.91 39.72,345.01 39.78,342.02 39.84,338.94 39.92,335.76 40.01,332.50 40.13,329.16 40.28,325.73 40.45,322.23 40.67,318.65 40.94,315.01 41.28,311.30 41.68,307.53 42.19,303.71 42.80,299.85 43.97,294.14 45.13,289.73 46.30,286.14 47.46,283.11 48.63,280.50 49.79,278.22 50.96,276.18 52.12,274.36 53.29,272.70 54.45,271.19 55.62,269.80 56.78,268.52 57.95,267.33 59.11,266.22 60.27,265.19 61.44,264.22 62.60,263.31 63.77,262.46 64.93,261.65 66.10,260.89 67.26,260.17 68.43,259.48 69.59,258.83 70.76,258.22 71.92,257.63 73.09,257.07 74.25,256.54 75.42,256.03 76.58,255.54 77.75,255.08 78.91,254.64 80.08,254.21 81.24,253.80 82.40,253.41 83.57,253.04 84.73,252.68 85.90,252.34 87.06,252.01 88.23,251.70 89.39,251.39 90.56,251.10 91.72,250.82 92.89,250.55 94.05,250.29 95.22,250.05 96.38,249.81 97.55,249.58 98.71,249.36 99.88,249.14 101.04,248.94 102.20,248.74 103.37,248.55 104.53,248.37 105.70,248.20 106.86,248.03 108.03,247.87 109.19,247.71 110.36,247.56 111.52,247.42 112.69,247.28 113.85,247.15 115.02,247.02 116.18,246.89 117.35,246.78 118.51,246.66 119.68,246.55 120.84,246.45 122.00,246.34 123.17,246.25 124.33,246.15 125.50,246.06 126.66,245.98 127.83,245.89 128.99,245.81 130.16,245.73 131.32,245.66 132.49,245.59 133.65,245.52 134.82,245.45 135.98,245.39 137.15,245.33 138.31,245.27 139.48,245.22 140.64,245.16 141.81,245.11 142.97,245.06 144.13,245.01 145.30,244.97 146.46,244.92 147.63,244.88 148.79,244.84 149.96,244.80 151.12,244.76 152.29,244.72 153.45,244.69 154.62,244.66 155.78,244.62 156.95,244.59 158.11,244.56 159.28,244.53 160.44,244.50 161.61,244.47 162.77,244.45 163.93,244.42 165.10,244.40 166.26,244.37 167.43,244.35 168.59,244.33 169.76,244.30 170.92,244.28 172.09,244.26 173.25,244.24 174.42,244.22 175.58,244.20 176.75,244.18 177.91,244.16 179.08,244.14 180.24,244.12 181.41,244.10 182.57,244.08 183.74,244.06 184.90,244.04 186.06,244.02 187.23,244.00 188.39,243.98 189.56,243.96 190.72,243.94 191.89,243.92 193.05,243.90 194.22,243.88 195.38,243.86 196.55,243.84 197.71,243.82 198.88,243.80 200.04,243.78 201.21,243.76 202.37,243.74 203.54,243.72 204.70,243.70" fill="none" stroke="#0000ff" stroke-width="1.45" stroke-linejoin="round" stroke-linecap="round" />
<polyline points="39.50,407.60 39.50,407.60 39.50,407.60 39.50,407.60 39.50,407.60 39.50,407.60 39.50,407.60 39.50,407.60 39.50,407.60 39.50,407.60 39.50,407.60 39.50,407.60 39.50,407.60 39.50,407.60 39.50,407.60 39.50,407.60 39.50,407.60 39.50,407.60 39.50,407.60 39.50,407.60 39.50,407.60 39.50,407.60 39.50,407.60 39.50,407.60 39.50,407.60 39.50,407.60 39.50,407.60 39.50,407.60 39.50,407.60 39.51,407.59 39.51,407.59 39.51,407.59 39.51,407.59 39.51,407.59 39.52,407.58 39.52,407.58 39.52,407.58 39.53,407.57 39.53,407.57 39.54,407.56 39.55,407.55 39.56,407.54 39.58,407.52 39.60,407.50 39.62,407.48 39.65,407.45 39.68,407.42 39.72,407.38 39.78,407.33 39.84,407.26 39.92,407.19 40.01,407.09 40.13,406.97 40.28,406.83 40.45,406.65 40.67,406.43 40.94,406.17 41.28,405.84 41.68,405.43 42.19,404.93 42.80,404.32 43.97,403.17 45.13,402.01 46.30,400.86 47.46,399.70 48.63,398.54 49.79,397.39 50.96,396.12 52.12,393.88 53.29,391.62 54.45,389.34 55.62,387.06 56.78,384.78 57.95,382.50 59.11,380.23 60.27,377.96 61.44,375.71 62.60,373.46 63.77,371.23 64.93,369.02 66.10,366.82 67.26,364.64 68.43,362.47 69.59,360.33 70.76,358.20 71.92,356.10 73.09,354.01 74.25,351.95 75.42,349.91 76.58,347.88 77.75,345.88 78.91,343.91 80.08,341.95 81.24,340.02 82.40,338.11 83.57,336.22 84.73,334.35 85.90,332.51 87.06,330.69 88.23,328.89 89.39,327.11 90.56,325.36 91.72,323.63 92.89,321.92 94.05,320.23 95.22,318.57 96.38,316.93 97.55,315.31 98.71,313.71 99.88,312.14 101.04,310.59 102.20,309.06 103.37,307.55 104.53,306.06 105.70,304.60 106.86,303.15 108.03,301.73 109.19,300.33 110.36,298.95 111.52,297.59 112.69,296.25 113.85,294.93 115.02,293.63 116.18,292.35 117.35,291.10 118.51,289.86 119.68,288.64 120.84,287.44 122.00,286.27 123.17,285.11 124.33,283.97 125.50,282.85 126.66,281.75 127.83,280.67 128.99,279.61 130.16,278.56 131.32,277.54 132.49,276.53 133.65,275.54 134.82,274.57 135.98,273.62 137.15,272.68 138.31,271.76 139.48,270.86 140.64,269.98 141.81,269.11 142.97,268.27 144.13,267.43 145.30,266.62 146.46,265.82 147.63,265.04 148.79,264.27 149.96,263.52 151.12,262.79 152.29,262.07 153.45,261.37 154.62,260.68 155.78,260.01 156.95,259.35 158.11,258.71 159.28,258.09 160.44,257.47 161.61,256.88 162.77,256.30 163.93,255.73 165.10,255.17 166.26,254.63 167.43,254.11 168.59,253.60 169.76,253.10 170.92,252.61 172.09,252.14 173.25,251.68 174.42,251.24 175.58,250.80 176.75,250.38 177.91,249.98 179.08,249.58 180.24,249.20 181.41,248.83 182.57,248.47 183.74,248.12 184.90,247.78 186.06,247.46 187.23,247.15 188.39,246.85 189.56,246.55 190.72,246.27 191.89,246.01 193.05,245.75 194.22,245.50 195.38,245.26 196.55,245.03 197.71,244.81 198.88,244.60 200.04,244.41 201.21,244.22 202.37,244.03 203.54,243.86 204.70,243.70" fill="none" stroke="#2a8a2a" stroke-width="1.45" stroke-linejoin="round" stroke-linecap="round" />
<polyline points="39.50,407.60 39.50,397.14 39.50,396.70 39.50,396.24 39.50,395.76 39.50,395.26 39.50,394.74 39.50,394.21 39.50,393.65 39.50,393.07 39.50,392.47 39.50,391.84 39.50,391.19 39.50,390.52 39.50,389.82 39.50,389.09 39.50,388.34 39.50,387.56 39.50,386.74 39.50,385.90 39.50,385.03 39.50,384.13 39.50,383.19 39.50,382.22 39.50,381.22 39.50,380.17 39.50,379.10 39.50,377.98 39.50,376.82 39.51,375.63 39.51,374.39 39.51,373.11 39.51,371.79 39.51,370.43 39.52,369.01 39.52,367.56 39.52,366.05 39.53,364.50 39.53,362.89 39.54,361.24 39.55,359.53 39.56,357.77 39.58,355.95 39.60,354.08 39.62,352.15 39.65,350.17 39.68,348.12 39.72,346.02 39.78,343.85 39.84,341.62 39.92,339.33 40.01,336.97 40.13,334.54 40.28,332.04 40.45,329.47 40.67,326.82 40.94,324.10 41.28,321.29 41.68,318.41 42.19,315.43 42.80,312.37 43.97,307.74 45.13,304.06 46.30,300.98 47.46,298.34 48.63,296.02 49.79,293.94 50.96,292.07 52.12,290.37 53.29,288.80 54.45,287.36 55.62,286.02 56.78,284.77 57.95,283.60 59.11,282.50 60.27,281.47 61.44,280.49 62.60,279.57 63.77,278.70 64.93,277.87 66.10,277.08 67.26,276.33 68.43,275.61 69.59,274.93 70.76,274.27 71.92,273.65 73.09,273.05 74.25,272.47 75.42,271.92 76.58,271.39 77.75,270.88 78.91,270.39 80.08,269.92 81.24,269.46 82.40,269.02 83.57,268.60 84.73,268.19 85.90,267.80 87.06,267.42 88.23,267.05 89.39,266.69 90.56,266.35 91.72,266.01 92.89,265.69 94.05,265.37 95.22,265.07 96.38,264.77 97.55,264.48 98.71,264.20 99.88,263.93 101.04,263.66 102.20,263.40 103.37,263.15 104.53,262.90 105.70,262.66 106.86,262.42 108.03,262.19 109.19,261.97 110.36,261.75 111.52,261.53 112.69,261.32 113.85,261.11 115.02,260.91 116.18,260.71 117.35,260.51 118.51,260.31 119.68,260.12 120.84,259.93 122.00,259.74 123.17,259.56 124.33,259.38 125.50,259.20 126.66,259.02 127.83,258.84 128.99,258.67 130.16,258.49 131.32,258.32 132.49,258.14 133.65,257.97 134.82,257.80 135.98,257.63 137.15,257.46 138.31,257.29 139.48,257.12 140.64,256.95 141.81,256.78 142.97,256.61 144.13,256.44 145.30,256.27 146.46,256.10 147.63,255.93 148.79,255.75 149.96,255.58 151.12,255.41 152.29,255.23 153.45,255.05 154.62,254.87 155.78,254.69 156.95,254.51 158.11,254.33 159.28,254.15 160.44,253.96 161.61,253.77 162.77,253.58 163.93,253.39 165.10,253.19 166.26,252.99 167.43,252.79 168.59,252.59 169.76,252.39 170.92,252.18 172.09,251.97 173.25,251.76 174.42,251.54 175.58,251.32 176.75,251.10 177.91,250.87 179.08,250.64 180.24,250.41 181.41,250.17 182.57,249.93 183.74,249.68 184.90,249.43 186.06,249.18 187.23,248.92 188.39,248.65 189.56,248.38 190.72,248.11 191.89,247.83 193.05,247.54 194.22,247.24 195.38,246.94 196.55,246.63 197.71,246.31 198.88,245.98 200.04,245.63 201.21,245.26 202.37,244.87 203.54,244.42 204.70,243.70" fill="none" stroke="#ff1a1a" stroke-width="1.45" stroke-linejoin="round" stroke-linecap="round" />
<line x1="39.50" y1="407.60" x2="204.70" y2="243.70" stroke="#28289c" stroke-width="1.6" stroke-dasharray="5 2.1"/>
<rect x="119.5" y="385.7" width="89.7" height="25.7" rx="1.5" fill="#ffffff" fill-opacity="0.82" stroke="#d6d6d6" stroke-width="0.8"/>
<line x1="121.30" y1="390.20" x2="133.80" y2="390.20" stroke="#0000ff" stroke-width="1.7" />
<text x="138.00" y="392.30" font-family="'Liberation Sans', sans-serif" font-size="5.96" text-anchor="start" fill="#2a2a2a" stroke="#2a2a2a" stroke-width="0.06" transform="translate(138.00 392.30) rotate(0) scale(1 1.1) translate(-138.00 -392.30)" >Our Method (AUC = 0.95)</text>
<line x1="121.30" y1="398.70" x2="133.80" y2="398.70" stroke="#4a9a4a" stroke-width="1.7" />
<text x="138.00" y="400.80" font-family="'Liberation Sans', sans-serif" font-size="5.96" text-anchor="start" fill="#2a2a2a" stroke="#2a2a2a" stroke-width="0.06" transform="translate(138.00 400.80) rotate(0) scale(1 1.1) translate(-138.00 -400.80)" >RAPPPID (AUC = 0.64)</text>
<line x1="121.30" y1="407.40" x2="133.80" y2="407.40" stroke="#ff1a1a" stroke-width="1.7" />
<text x="138.00" y="409.50" font-family="'Liberation Sans', sans-serif" font-size="5.96" text-anchor="start" fill="#2a2a2a" stroke="#2a2a2a" stroke-width="0.06" transform="translate(138.00 409.50) rotate(0) scale(1 1.1) translate(-138.00 -409.50)" >Topsy-Turvy (AUC = 0.87)</text>
<line x1="264.90" y1="235.60" x2="446.70" y2="235.60" stroke="#222" stroke-width="1.2" />
<line x1="446.70" y1="235.60" x2="446.70" y2="415.60" stroke="#222" stroke-width="1.2" />
<line x1="264.90" y1="415.60" x2="446.70" y2="415.60" stroke="#555" stroke-width="1.6" />
<line x1="264.90" y1="235.10" x2="264.90" y2="416.40" stroke="#555" stroke-width="1.6" />
<line x1="271.10" y1="415.60" x2="271.10" y2="412.40" stroke="#333" stroke-width="1.0" />
<text x="271.10" y="424.30" font-family="'Liberation Sans', sans-serif" font-size="7.9" text-anchor="middle" fill="#3a3a3a" stroke="#3a3a3a" stroke-width="0.1" transform="translate(271.10 424.30) rotate(0) scale(1 1.1) translate(-271.10 -424.30)" >0.0</text>
<line x1="287.84" y1="415.60" x2="287.84" y2="413.80" stroke="#333" stroke-width="1.0" />
<line x1="304.58" y1="415.60" x2="304.58" y2="412.40" stroke="#333" stroke-width="1.0" />
<text x="304.58" y="424.30" font-family="'Liberation Sans', sans-serif" font-size="7.9" text-anchor="middle" fill="#3a3a3a" stroke="#3a3a3a" stroke-width="0.1" transform="translate(304.58 424.30) rotate(0) scale(1 1.1) translate(-304.58 -424.30)" >0.2</text>
<line x1="321.32" y1="415.60" x2="321.32" y2="413.80" stroke="#333" stroke-width="1.0" />
<line x1="338.06" y1="415.60" x2="338.06" y2="412.40" stroke="#333" stroke-width="1.0" />
<text x="338.06" y="424.30" font-family="'Liberation Sans', sans-serif" font-size="7.9" text-anchor="middle" fill="#3a3a3a" stroke="#3a3a3a" stroke-width="0.1" transform="translate(338.06 424.30) rotate(0) scale(1 1.1) translate(-338.06 -424.30)" >0.4</text>
<line x1="354.80" y1="415.60" x2="354.80" y2="413.80" stroke="#333" stroke-width="1.0" />
<line x1="371.54" y1="415.60" x2="371.54" y2="412.40" stroke="#333" stroke-width="1.0" />
<text x="371.54" y="424.30" font-family="'Liberation Sans', sans-serif" font-size="7.9" text-anchor="middle" fill="#3a3a3a" stroke="#3a3a3a" stroke-width="0.1" transform="translate(371.54 424.30) rotate(0) scale(1 1.1) translate(-371.54 -424.30)" >0.6</text>
<line x1="388.28" y1="415.60" x2="388.28" y2="413.80" stroke="#333" stroke-width="1.0" />
<line x1="405.02" y1="415.60" x2="405.02" y2="412.40" stroke="#333" stroke-width="1.0" />
<text x="405.02" y="424.30" font-family="'Liberation Sans', sans-serif" font-size="7.9" text-anchor="middle" fill="#3a3a3a" stroke="#3a3a3a" stroke-width="0.1" transform="translate(405.02 424.30) rotate(0) scale(1 1.1) translate(-405.02 -424.30)" >0.8</text>
<line x1="421.76" y1="415.60" x2="421.76" y2="413.80" stroke="#333" stroke-width="1.0" />
<line x1="438.50" y1="415.60" x2="438.50" y2="412.40" stroke="#333" stroke-width="1.0" />
<text x="438.50" y="424.30" font-family="'Liberation Sans', sans-serif" font-size="7.9" text-anchor="middle" fill="#3a3a3a" stroke="#3a3a3a" stroke-width="0.1" transform="translate(438.50 424.30) rotate(0) scale(1 1.1) translate(-438.50 -424.30)" >1.0</text>
<line x1="264.90" y1="382.60" x2="268.10" y2="382.60" stroke="#333" stroke-width="1.0" />
<text x="262.10" y="385.80" font-family="'Liberation Sans', sans-serif" font-size="7.9" text-anchor="end" fill="#3a3a3a" stroke="#3a3a3a" stroke-width="0.1" transform="translate(262.10 385.80) rotate(0) scale(1 1.1) translate(-262.10 -385.80)" >0.2</text>
<line x1="264.90" y1="347.60" x2="268.10" y2="347.60" stroke="#333" stroke-width="1.0" />
<text x="262.10" y="350.80" font-family="'Liberation Sans', sans-serif" font-size="7.9" text-anchor="end" fill="#3a3a3a" stroke="#3a3a3a" stroke-width="0.1" transform="translate(262.10 350.80) rotate(0) scale(1 1.1) translate(-262.10 -350.80)" >0.4</text>
<line x1="264.90" y1="312.60" x2="268.10" y2="312.60" stroke="#333" stroke-width="1.0" />
<text x="262.10" y="315.80" font-family="'Liberation Sans', sans-serif" font-size="7.9" text-anchor="end" fill="#3a3a3a" stroke="#3a3a3a" stroke-width="0.1" transform="translate(262.10 315.80) rotate(0) scale(1 1.1) translate(-262.10 -315.80)" >0.6</text>
<line x1="264.90" y1="277.60" x2="268.10" y2="277.60" stroke="#333" stroke-width="1.0" />
<text x="262.10" y="280.80" font-family="'Liberation Sans', sans-serif" font-size="7.9" text-anchor="end" fill="#3a3a3a" stroke="#3a3a3a" stroke-width="0.1" transform="translate(262.10 280.80) rotate(0) scale(1 1.1) translate(-262.10 -280.80)" >0.8</text>
<line x1="264.90" y1="242.60" x2="268.10" y2="242.60" stroke="#333" stroke-width="1.0" />
<text x="262.10" y="245.80" font-family="'Liberation Sans', sans-serif" font-size="7.9" text-anchor="end" fill="#3a3a3a" stroke="#3a3a3a" stroke-width="0.1" transform="translate(262.10 245.80) rotate(0) scale(1 1.1) translate(-262.10 -245.80)" >1.0</text>
<line x1="264.90" y1="400.10" x2="266.70" y2="400.10" stroke="#333" stroke-width="1.0" />
<line x1="264.90" y1="365.10" x2="266.70" y2="365.10" stroke="#333" stroke-width="1.0" />
<line x1="264.90" y1="330.10" x2="266.70" y2="330.10" stroke="#333" stroke-width="1.0" />
<line x1="264.90" y1="295.10" x2="266.70" y2="295.10" stroke="#333" stroke-width="1.0" />
<line x1="264.90" y1="260.10" x2="266.70" y2="260.10" stroke="#333" stroke-width="1.0" />
<text x="355.80" y="434.50" font-family="'Liberation Sans', sans-serif" font-size="9.4" text-anchor="middle" fill="#222" stroke="#222" stroke-width="0.22" transform="translate(355.80 434.50) rotate(0) scale(1 1.1) translate(-355.80 -434.50)" >Recall</text>
<text x="248.40" y="326.20" font-family="'Liberation Sans', sans-serif" font-size="9.4" text-anchor="middle" fill="#222" stroke="#222" stroke-width="0.22" transform="translate(248.40 326.20) rotate(-90) scale(1 1.1) translate(-248.40 -326.20)" >Precision</text>
<text x="355.80" y="219.90" font-family="'Liberation Sans', sans-serif" font-size="9.5" text-anchor="middle" fill="#222" stroke="#222" stroke-width="0.22" transform="translate(355.80 219.90) rotate(0) scale(1 1.1) translate(-355.80 -219.90)" >Comparison of Precision-Recall Curves</text>
<text x="355.80" y="229.90" font-family="'Liberation Sans', sans-serif" font-size="9.5" text-anchor="middle" fill="#222" stroke="#222" stroke-width="0.22" transform="translate(355.80 229.90) rotate(0) scale(1 1.1) translate(-355.80 -229.90)" >for Different Methods on Cross-Species Datasets</text>
<text x="241.00" y="217.20" font-family="'Liberation Sans', sans-serif" font-size="12.2" text-anchor="start" fill="#111" stroke="#111" stroke-width="0.15" transform="translate(241.00 217.20) rotate(0) scale(1 1.0) translate(-241.00 -217.20)" >d</text>
<polyline points="273.20,407.10 273.41,406.20 273.69,405.35 274.04,404.56 274.45,403.82 274.89,403.15 275.39,402.54 276.03,401.95 276.74,401.42 277.50,400.96 278.24,400.59 279.00,400.27 279.79,399.97 280.61,399.70 281.44,399.45 282.28,399.22 283.12,399.01 283.97,398.82 284.81,398.64 285.64,398.47 286.47,398.31 287.30,398.15 288.14,398.00 288.98,397.85 289.83,397.71 290.67,397.58 291.52,397.44 292.36,397.32 293.21,397.20 294.06,397.08 294.91,396.97 295.76,396.87 296.61,396.77 297.46,396.67 298.31,396.57 299.16,396.48 300.01,396.40 300.85,396.32 301.70,396.23 302.55,396.15 303.40,396.08 304.25,396.00 305.10,395.92 305.95,395.85 306.80,395.77 307.65,395.70 308.50,395.63 309.35,395.56 310.20,395.49 311.05,395.43 311.91,395.36 312.76,395.30 313.61,395.23 314.46,395.17 315.31,395.11 316.17,395.05 317.02,395.00 317.87,394.94 318.72,394.89 319.58,394.83 320.43,394.78 321.28,394.73 322.14,394.68 322.99,394.64 323.84,394.59 324.70,394.55 325.55,394.50 326.40,394.46 327.25,394.42 328.11,394.38 328.96,394.34 329.81,394.31 330.66,394.27 331.52,394.24 332.37,394.20 333.22,394.17 334.08,394.13 334.93,394.10 335.78,394.06 336.63,394.03 337.49,393.99 338.34,393.96 339.19,393.92 340.05,393.89 340.90,393.86 341.76,393.82 342.61,393.79 343.46,393.76 344.32,393.73 345.17,393.69 346.02,393.66 346.88,393.63 347.73,393.60 348.59,393.58 349.44,393.55 350.29,393.52 351.15,393.49 352.00,393.47 352.85,393.44 353.71,393.42 354.56,393.40 355.42,393.38 356.27,393.36 357.12,393.34 357.98,393.32 358.83,393.30 359.68,393.29 360.54,393.27 361.39,393.26 362.24,393.24 363.10,393.23 363.95,393.22 364.80,393.22 365.65,393.21 366.51,393.21 367.36,393.20 368.21,393.20 369.06,393.20 369.92,393.21 370.77,393.23 371.62,393.25 372.47,393.29 373.32,393.33 374.18,393.38 375.03,393.43 375.88,393.49 376.73,393.55 377.58,393.62 378.43,393.70 379.29,393.77 380.14,393.85 380.99,393.93 381.84,394.01 382.69,394.10 383.54,394.18 384.39,394.27 385.24,394.35 386.09,394.43 386.94,394.51 387.80,394.59 388.65,394.67 389.50,394.74 390.35,394.82 391.20,394.89 392.05,394.97 392.90,395.04 393.75,395.12 394.60,395.20 395.45,395.28 396.30,395.36 397.15,395.44 398.00,395.52 398.85,395.61 399.70,395.69 400.55,395.78 401.40,395.86 402.25,395.95 403.10,396.04 403.94,396.13 404.79,396.22 405.64,396.32 406.49,396.41 407.34,396.50 408.19,396.60 409.04,396.70 409.88,396.80 410.73,396.90 411.58,397.00 412.42,397.10 413.27,397.21 414.12,397.32 414.96,397.43 415.81,397.55 416.65,397.67 417.50,397.79 418.34,397.92 419.19,398.04 420.03,398.17 420.87,398.30 421.72,398.43 422.56,398.56 423.41,398.69 424.25,398.83 425.09,398.96 425.94,399.09 426.78,399.22 427.63,399.34 428.47,399.47 429.31,399.60 430.16,399.72 431.00,399.85 431.85,399.98 432.69,400.10 433.54,400.23 434.38,400.36 435.22,400.49 436.07,400.61 436.91,400.74 437.76,400.87 438.60,401.00" fill="none" stroke="#2a8a2a" stroke-width="1.35" stroke-linejoin="round" stroke-linecap="round" />
<polyline points="272.80,262.30 272.87,260.98 273.05,259.71 273.32,258.49 273.67,257.32 274.06,256.19 274.48,255.11 275.05,253.92 275.82,252.73 276.70,251.80 277.63,251.37 278.70,251.21 279.92,251.08 281.23,250.98 282.55,250.92 283.81,250.90 285.03,250.97 286.24,251.13 287.45,251.38 288.66,251.68 289.86,252.01 291.06,252.35 292.26,252.68 293.46,252.99 294.65,253.29 295.84,253.61 297.03,253.93 298.22,254.27 299.41,254.61 300.59,254.96 301.77,255.32 302.95,255.69 304.13,256.07 305.30,256.45 306.47,256.84 307.64,257.23 308.80,257.63 309.96,258.04 311.13,258.45 312.29,258.87 313.46,259.29 314.62,259.73 315.78,260.17 316.93,260.63 318.08,261.09 319.22,261.57 320.35,262.05 321.48,262.55 322.59,263.07 323.69,263.60 324.78,264.14 325.86,264.71 326.94,265.30 328.00,265.91 329.06,266.54 330.12,267.19 331.16,267.85 332.20,268.53 333.23,269.22 334.26,269.93 335.28,270.64 336.29,271.35 337.29,272.08 338.29,272.81 339.28,273.54 340.26,274.27 341.23,275.03 342.18,275.81 343.12,276.60 344.05,277.41 344.98,278.23 345.90,279.05 346.83,279.88 347.75,280.69 348.69,281.50 349.63,282.30 350.59,283.07 351.57,283.83 352.57,284.57 353.56,285.31 354.55,286.05 355.51,286.81 356.45,287.60 357.35,288.43 358.22,289.29 359.08,290.17 359.91,291.08 360.73,292.01 361.54,292.95 362.34,293.90 363.13,294.85 363.92,295.80 364.70,296.75 365.47,297.71 366.23,298.68 366.98,299.66 367.73,300.64 368.46,301.63 369.20,302.62 369.93,303.62 370.66,304.61 371.38,305.61 372.11,306.61 372.83,307.61 373.55,308.61 374.28,309.61 375.01,310.60 375.74,311.60 376.47,312.60 377.20,313.59 377.93,314.59 378.66,315.59 379.38,316.60 380.09,317.61 380.80,318.62 381.49,319.64 382.18,320.66 382.85,321.69 383.51,322.72 384.16,323.77 384.79,324.82 385.40,325.89 386.00,326.96 386.58,328.05 387.15,329.14 387.72,330.24 388.28,331.34 388.84,332.44 389.41,333.54 389.97,334.64 390.55,335.73 391.13,336.82 391.72,337.90 392.33,338.97 392.94,340.05 393.56,341.11 394.18,342.18 394.80,343.25 395.42,344.31 396.03,345.38 396.64,346.45 397.24,347.53 397.83,348.61 398.42,349.69 399.01,350.78 399.59,351.87 400.17,352.96 400.74,354.05 401.31,355.14 401.87,356.24 402.42,357.34 402.97,358.45 403.51,359.55 404.04,360.67 404.57,361.78 405.08,362.90 405.60,364.02 406.10,365.15 406.61,366.27 407.12,367.40 407.63,368.52 408.14,369.64 408.66,370.76 409.19,371.87 409.72,372.99 410.24,374.11 410.76,375.24 411.28,376.36 411.80,377.49 412.33,378.61 412.86,379.73 413.41,380.83 413.98,381.93 414.56,383.00 415.17,384.06 415.81,385.10 416.47,386.14 417.15,387.18 417.85,388.21 418.58,389.23 419.33,390.24 420.10,391.22 420.90,392.17 421.72,393.09 422.55,393.97 423.41,394.81 424.31,395.63 425.25,396.44 426.23,397.24 427.25,398.00 428.29,398.71 429.35,399.35 430.44,399.91 431.54,400.38 432.69,400.85 433.90,401.29 435.11,401.62 436.30,401.79 437.46,401.61 438.60,401.00" fill="none" stroke="#ff1a1a" stroke-width="1.35" stroke-linejoin="round" stroke-linecap="round" />
<polyline points="272.50,244.70 273.60,243.98 274.77,243.68 276.03,243.61 277.28,243.65 278.49,244.02 279.69,244.47 280.91,244.74 282.14,244.89 283.38,245.02 284.63,245.12 285.89,245.21 287.14,245.29 288.40,245.37 289.67,245.43 290.93,245.51 292.19,245.58 293.45,245.66 294.71,245.76 295.96,245.88 297.21,246.01 298.46,246.15 299.71,246.31 300.95,246.48 302.20,246.67 303.44,246.86 304.69,247.05 305.93,247.26 307.17,247.47 308.41,247.69 309.65,247.91 310.89,248.13 312.12,248.36 313.36,248.59 314.59,248.83 315.83,249.07 317.07,249.32 318.30,249.58 319.53,249.85 320.76,250.12 321.99,250.41 323.21,250.70 324.43,251.01 325.65,251.32 326.86,251.65 328.06,251.99 329.26,252.35 330.46,252.72 331.65,253.11 332.85,253.52 334.04,253.95 335.22,254.38 336.40,254.83 337.58,255.30 338.75,255.77 339.91,256.26 341.07,256.75 342.22,257.25 343.36,257.76 344.49,258.31 345.61,258.88 346.72,259.47 347.82,260.08 348.92,260.70 350.02,261.31 351.12,261.92 352.22,262.53 353.33,263.14 354.43,263.76 355.52,264.38 356.62,265.00 357.70,265.64 358.79,266.28 359.86,266.93 360.93,267.59 361.99,268.27 363.03,268.95 364.09,269.64 365.14,270.35 366.19,271.06 367.24,271.77 368.28,272.50 369.31,273.25 370.33,274.00 371.33,274.77 372.31,275.55 373.27,276.35 374.21,277.17 375.11,278.00 375.99,278.86 376.86,279.74 377.72,280.64 378.56,281.56 379.39,282.49 380.22,283.45 381.02,284.41 381.82,285.39 382.61,286.39 383.39,287.39 384.16,288.40 384.93,289.42 385.68,290.45 386.43,291.48 387.17,292.51 387.90,293.55 388.63,294.58 389.36,295.62 390.08,296.65 390.79,297.67 391.50,298.71 392.19,299.75 392.88,300.80 393.56,301.85 394.23,302.92 394.89,303.98 395.55,305.06 396.20,306.13 396.85,307.21 397.50,308.30 398.14,309.38 398.77,310.47 399.41,311.56 400.04,312.65 400.68,313.74 401.31,314.83 401.95,315.92 402.59,317.00 403.23,318.08 403.87,319.17 404.50,320.25 405.14,321.34 405.77,322.42 406.40,323.51 407.03,324.60 407.66,325.69 408.28,326.78 408.90,327.88 409.52,328.97 410.14,330.07 410.75,331.16 411.37,332.26 411.99,333.36 412.61,334.45 413.23,335.55 413.84,336.65 414.45,337.75 415.06,338.85 415.66,339.96 416.26,341.07 416.85,342.18 417.43,343.29 418.00,344.41 418.56,345.53 419.12,346.65 419.67,347.78 420.22,348.92 420.76,350.05 421.30,351.19 421.83,352.33 422.36,353.47 422.88,354.62 423.40,355.77 423.91,356.92 424.41,358.07 424.91,359.23 425.40,360.39 425.89,361.55 426.36,362.71 426.83,363.87 427.30,365.04 427.76,366.21 428.21,367.38 428.66,368.56 429.10,369.74 429.54,370.92 429.97,372.10 430.40,373.28 430.82,374.47 431.24,375.66 431.66,376.84 432.07,378.03 432.47,379.22 432.87,380.41 433.27,381.61 433.67,382.80 434.07,384.00 434.46,385.19 434.84,386.39 435.22,387.59 435.58,388.80 435.94,390.00 436.28,391.21 436.61,392.42 436.92,393.64 437.23,394.86 437.52,396.08 437.81,397.31 438.08,398.54 438.35,399.77 438.60,401.00" fill="none" stroke="#0000ff" stroke-width="1.35" stroke-linejoin="round" stroke-linecap="round" />
<rect x="267.6" y="385.6" width="100.4" height="25.6" rx="1.5" fill="#ffffff" fill-opacity="0.82" stroke="#d6d6d6" stroke-width="0.8"/>
<line x1="269.20" y1="390.30" x2="282.90" y2="390.30" stroke="#0000ff" stroke-width="1.7" />
<text x="286.90" y="392.40" font-family="'Liberation Sans', sans-serif" font-size="5.94" text-anchor="start" fill="#2a2a2a" stroke="#2a2a2a" stroke-width="0.06" transform="translate(286.90 392.40) rotate(0) scale(1 1.1) translate(-286.90 -392.40)" >Our Method (PR AUC = 0.77)</text>
<line x1="269.20" y1="398.80" x2="282.90" y2="398.80" stroke="#4a9a4a" stroke-width="1.7" />
<text x="286.90" y="400.90" font-family="'Liberation Sans', sans-serif" font-size="5.94" text-anchor="start" fill="#2a2a2a" stroke="#2a2a2a" stroke-width="0.06" transform="translate(286.90 400.90) rotate(0) scale(1 1.1) translate(-286.90 -400.90)" >RAPPPID (PR AUC = 0.12)</text>
<line x1="269.20" y1="407.40" x2="282.90" y2="407.40" stroke="#ff1a1a" stroke-width="1.7" />
<text x="286.90" y="409.50" font-family="'Liberation Sans', sans-serif" font-size="5.94" text-anchor="start" fill="#2a2a2a" stroke="#2a2a2a" stroke-width="0.06" transform="translate(286.90 409.50) rotate(0) scale(1 1.1) translate(-286.90 -409.50)" >Topsy-Turvy (PR AUC = 0.64)</text>
<polyline points="273.20,407.10 273.43,406.51 273.73,405.67 274.11,404.71 274.53,403.77 275.00,403.00 275.46,402.42 275.92,401.94 276.45,401.52 277.12,401.12 278.00,400.70 279.02,400.27 280.13,399.85 281.43,399.44 283.02,399.02 285.00,398.60 287.25,398.16 289.70,397.72 292.54,397.28 295.91,396.84 300.00,396.40 304.90,395.96 310.50,395.50 316.65,395.06 323.20,394.65 330.00,394.30 337.80,394.00 346.71,393.74 355.59,393.51 363.30,393.33 368.70,393.20" fill="none" stroke="#2a8a2a" stroke-width="1.2" stroke-linejoin="round" stroke-linecap="round" opacity="0.25"/>
<line x1="498.70" y1="235.60" x2="680.30" y2="235.60" stroke="#222" stroke-width="1.2" />
<line x1="680.30" y1="235.60" x2="680.30" y2="415.70" stroke="#222" stroke-width="1.2" />
<line x1="498.70" y1="415.70" x2="680.30" y2="415.70" stroke="#777" stroke-width="1.7" />
<line x1="498.70" y1="235.10" x2="498.70" y2="416.55" stroke="#333" stroke-width="1.3" />
<line x1="507.00" y1="415.70" x2="507.00" y2="412.50" stroke="#333" stroke-width="1.0" />
<text x="507.00" y="424.30" font-family="'Liberation Sans', sans-serif" font-size="7.9" text-anchor="middle" fill="#3a3a3a" stroke="#3a3a3a" stroke-width="0.1" transform="translate(507.00 424.30) rotate(0) scale(1 1.1) translate(-507.00 -424.30)" >0.0</text>
<line x1="523.49" y1="415.70" x2="523.49" y2="413.90" stroke="#333" stroke-width="1.0" />
<line x1="539.98" y1="415.70" x2="539.98" y2="412.50" stroke="#333" stroke-width="1.0" />
<text x="539.98" y="424.30" font-family="'Liberation Sans', sans-serif" font-size="7.9" text-anchor="middle" fill="#3a3a3a" stroke="#3a3a3a" stroke-width="0.1" transform="translate(539.98 424.30) rotate(0) scale(1 1.1) translate(-539.98 -424.30)" >0.2</text>
<line x1="556.47" y1="415.70" x2="556.47" y2="413.90" stroke="#333" stroke-width="1.0" />
<line x1="572.96" y1="415.70" x2="572.96" y2="412.50" stroke="#333" stroke-width="1.0" />
<text x="572.96" y="424.30" font-family="'Liberation Sans', sans-serif" font-size="7.9" text-anchor="middle" fill="#3a3a3a" stroke="#3a3a3a" stroke-width="0.1" transform="translate(572.96 424.30) rotate(0) scale(1 1.1) translate(-572.96 -424.30)" >0.4</text>
<line x1="589.45" y1="415.70" x2="589.45" y2="413.90" stroke="#333" stroke-width="1.0" />
<line x1="605.94" y1="415.70" x2="605.94" y2="412.50" stroke="#333" stroke-width="1.0" />
<text x="605.94" y="424.30" font-family="'Liberation Sans', sans-serif" font-size="7.9" text-anchor="middle" fill="#3a3a3a" stroke="#3a3a3a" stroke-width="0.1" transform="translate(605.94 424.30) rotate(0) scale(1 1.1) translate(-605.94 -424.30)" >0.6</text>
<line x1="622.43" y1="415.70" x2="622.43" y2="413.90" stroke="#333" stroke-width="1.0" />
<line x1="638.92" y1="415.70" x2="638.92" y2="412.50" stroke="#333" stroke-width="1.0" />
<text x="638.92" y="424.30" font-family="'Liberation Sans', sans-serif" font-size="7.9" text-anchor="middle" fill="#3a3a3a" stroke="#3a3a3a" stroke-width="0.1" transform="translate(638.92 424.30) rotate(0) scale(1 1.1) translate(-638.92 -424.30)" >0.8</text>
<line x1="655.41" y1="415.70" x2="655.41" y2="413.90" stroke="#333" stroke-width="1.0" />
<line x1="671.90" y1="415.70" x2="671.90" y2="412.50" stroke="#333" stroke-width="1.0" />
<text x="671.90" y="424.30" font-family="'Liberation Sans', sans-serif" font-size="7.9" text-anchor="middle" fill="#3a3a3a" stroke="#3a3a3a" stroke-width="0.1" transform="translate(671.90 424.30) rotate(0) scale(1 1.1) translate(-671.90 -424.30)" >1.0</text>
<line x1="498.70" y1="407.60" x2="501.90" y2="407.60" stroke="#333" stroke-width="1.0" />
<text x="495.90" y="410.80" font-family="'Liberation Sans', sans-serif" font-size="7.9" text-anchor="end" fill="#3a3a3a" stroke="#3a3a3a" stroke-width="0.1" transform="translate(495.90 410.80) rotate(0) scale(1 1.1) translate(-495.90 -410.80)" >0.0</text>
<line x1="498.70" y1="374.82" x2="501.90" y2="374.82" stroke="#333" stroke-width="1.0" />
<text x="495.90" y="378.02" font-family="'Liberation Sans', sans-serif" font-size="7.9" text-anchor="end" fill="#3a3a3a" stroke="#3a3a3a" stroke-width="0.1" transform="translate(495.90 378.02) rotate(0) scale(1 1.1) translate(-495.90 -378.02)" >0.2</text>
<line x1="498.70" y1="342.04" x2="501.90" y2="342.04" stroke="#333" stroke-width="1.0" />
<text x="495.90" y="345.24" font-family="'Liberation Sans', sans-serif" font-size="7.9" text-anchor="end" fill="#3a3a3a" stroke="#3a3a3a" stroke-width="0.1" transform="translate(495.90 345.24) rotate(0) scale(1 1.1) translate(-495.90 -345.24)" >0.4</text>
<line x1="498.70" y1="309.26" x2="501.90" y2="309.26" stroke="#333" stroke-width="1.0" />
<text x="495.90" y="312.46" font-family="'Liberation Sans', sans-serif" font-size="7.9" text-anchor="end" fill="#3a3a3a" stroke="#3a3a3a" stroke-width="0.1" transform="translate(495.90 312.46) rotate(0) scale(1 1.1) translate(-495.90 -312.46)" >0.6</text>
<line x1="498.70" y1="276.48" x2="501.90" y2="276.48" stroke="#333" stroke-width="1.0" />
<text x="495.90" y="279.68" font-family="'Liberation Sans', sans-serif" font-size="7.9" text-anchor="end" fill="#3a3a3a" stroke="#3a3a3a" stroke-width="0.1" transform="translate(495.90 279.68) rotate(0) scale(1 1.1) translate(-495.90 -279.68)" >0.8</text>
<line x1="498.70" y1="243.70" x2="501.90" y2="243.70" stroke="#333" stroke-width="1.0" />
<text x="495.90" y="246.90" font-family="'Liberation Sans', sans-serif" font-size="7.9" text-anchor="end" fill="#3a3a3a" stroke="#3a3a3a" stroke-width="0.1" transform="translate(495.90 246.90) rotate(0) scale(1 1.1) translate(-495.90 -246.90)" >1.0</text>
<line x1="498.70" y1="391.21" x2="500.50" y2="391.21" stroke="#333" stroke-width="1.0" />
<line x1="498.70" y1="358.43" x2="500.50" y2="358.43" stroke="#333" stroke-width="1.0" />
<line x1="498.70" y1="325.65" x2="500.50" y2="325.65" stroke="#333" stroke-width="1.0" />
<line x1="498.70" y1="292.87" x2="500.50" y2="292.87" stroke="#333" stroke-width="1.0" />
<line x1="498.70" y1="260.09" x2="500.50" y2="260.09" stroke="#333" stroke-width="1.0" />
<text x="589.50" y="434.50" font-family="'Liberation Sans', sans-serif" font-size="9.4" text-anchor="middle" fill="#222" stroke="#222" stroke-width="0.22" transform="translate(589.50 434.50) rotate(0) scale(1 1.1) translate(-589.50 -434.50)" >Fraction of Samples</text>
<text x="482.40" y="326.25" font-family="'Liberation Sans', sans-serif" font-size="9.4" text-anchor="middle" fill="#222" stroke="#222" stroke-width="0.22" transform="translate(482.40 326.25) rotate(-90) scale(1 1.1) translate(-482.40 -326.25)" >Fraction of True Positives</text>
<text x="589.50" y="219.90" font-family="'Liberation Sans', sans-serif" font-size="9.5" text-anchor="middle" fill="#222" stroke="#222" stroke-width="0.22" transform="translate(589.50 219.90) rotate(0) scale(1 1.1) translate(-589.50 -219.90)" >Comparison of Cumulative Response Curves</text>
<text x="589.50" y="229.90" font-family="'Liberation Sans', sans-serif" font-size="9.5" text-anchor="middle" fill="#222" stroke="#222" stroke-width="0.22" transform="translate(589.50 229.90) rotate(0) scale(1 1.1) translate(-589.50 -229.90)" >on Cross-Species Datasets</text>
<text x="475.20" y="217.40" font-family="'Liberation Sans', sans-serif" font-size="12.2" text-anchor="start" fill="#111" stroke="#111" stroke-width="0.15" transform="translate(475.20 217.40) rotate(0) scale(1 1.0) translate(-475.20 -217.40)" >e</text>
<polyline points="507.00,407.60 507.01,407.45 507.01,407.43 507.01,407.41 507.01,407.38 507.01,407.35 507.02,407.31 507.02,407.27 507.02,407.23 507.02,407.18 507.03,407.12 507.03,407.05 507.03,406.98 507.04,406.90 507.04,406.80 507.05,406.69 507.06,406.57 507.06,406.44 507.07,406.29 507.08,406.12 507.09,405.92 507.10,405.71 507.12,405.47 507.13,405.20 507.15,404.89 507.17,404.56 507.19,404.18 507.21,403.76 507.24,403.29 507.27,402.77 507.30,402.19 507.34,401.55 507.38,400.83 507.42,400.04 507.47,399.17 507.53,398.21 507.59,397.14 507.66,395.98 507.73,394.69 507.82,393.28 507.91,391.74 508.01,390.05 508.13,388.21 508.25,386.21 508.39,384.03 508.54,381.67 508.71,379.11 508.90,376.35 509.11,373.38 509.35,370.18 509.61,366.76 509.89,363.11 510.22,359.22 510.58,355.09 510.98,350.72 511.44,346.12 511.95,341.29 512.54,336.24 513.21,330.99 513.98,325.55 514.87,319.95 516.42,311.54 517.88,304.96 519.27,299.59 520.61,295.07 521.92,291.19 523.21,287.81 524.47,284.82 525.71,282.16 526.94,279.77 528.16,277.60 529.37,275.63 530.56,273.83 531.75,272.17 532.94,270.64 534.11,269.23 535.28,267.91 536.45,266.69 537.61,265.55 538.77,264.48 539.92,263.48 541.08,262.54 542.22,261.66 543.37,260.83 544.51,260.04 545.65,259.30 546.79,258.60 547.92,257.94 549.06,257.31 550.19,256.71 551.32,256.15 552.45,255.61 553.58,255.09 554.71,254.61 555.83,254.14 556.95,253.70 558.08,253.28 559.20,252.87 560.32,252.49 561.44,252.12 562.56,251.77 563.68,251.43 564.80,251.11 565.91,250.80 567.03,250.51 568.14,250.22 569.26,249.95 570.37,249.69 571.49,249.44 572.60,249.20 573.71,248.98 574.82,248.76 575.93,248.54 577.05,248.34 578.16,248.15 579.27,247.96 580.38,247.78 581.49,247.61 582.59,247.44 583.70,247.28 584.81,247.13 585.92,246.98 587.03,246.84 588.13,246.70 589.24,246.57 590.35,246.45 591.45,246.33 592.56,246.21 593.67,246.10 594.77,245.99 595.88,245.89 596.98,245.79 598.09,245.69 599.19,245.60 600.30,245.51 601.40,245.43 602.51,245.35 603.61,245.27 604.72,245.19 605.82,245.12 606.92,245.05 608.03,244.99 609.13,244.92 610.24,244.86 611.34,244.80 612.44,244.74 613.54,244.69 614.65,244.64 615.75,244.59 616.85,244.54 617.96,244.49 619.06,244.45 620.16,244.41 621.26,244.37 622.36,244.33 623.47,244.29 624.57,244.26 625.67,244.22 626.77,244.19 627.87,244.16 628.98,244.13 630.08,244.10 631.18,244.08 632.28,244.05 633.38,244.03 634.48,244.00 635.58,243.98 636.68,243.96 637.79,243.94 638.89,243.92 639.99,243.91 641.09,243.89 642.19,243.87 643.29,243.86 644.39,243.84 645.49,243.83 646.59,243.82 647.69,243.81 648.79,243.80 649.89,243.79 651.00,243.78 652.10,243.77 653.20,243.76 654.30,243.75 655.40,243.75 656.50,243.74 657.60,243.73 658.70,243.73 659.80,243.72 660.90,243.72 662.00,243.72 663.10,243.71 664.20,243.71 665.30,243.71 666.40,243.70 667.50,243.70 668.60,243.70 669.70,243.70 670.80,243.70 671.90,243.70" fill="none" stroke="#0000ff" stroke-width="1.45" stroke-linejoin="round" stroke-linecap="round" />
<polyline points="507.00,407.60 514.53,396.39 514.87,395.89 515.22,395.36 515.59,394.81 515.98,394.24 516.38,393.65 516.79,393.03 517.22,392.39 517.67,391.72 518.14,391.02 518.63,390.30 519.13,389.55 519.66,388.76 520.20,387.95 520.77,387.11 521.36,386.23 521.97,385.32 522.60,384.38 523.26,383.40 523.95,382.38 524.65,381.33 525.39,380.23 526.15,379.10 526.94,377.92 527.76,376.71 528.60,375.45 529.48,374.14 530.39,372.79 531.33,371.40 532.30,369.95 533.30,368.46 534.34,366.92 535.41,365.33 536.51,363.68 537.66,361.98 538.83,360.23 540.05,358.43 541.30,356.57 542.59,354.65 543.92,352.67 545.29,350.64 546.70,348.55 548.15,346.40 549.64,344.20 551.17,341.93 552.75,339.61 554.36,337.22 556.02,334.78 557.73,332.27 559.47,329.71 561.27,327.09 563.10,324.41 564.99,321.68 566.92,318.89 568.90,316.05 570.93,313.16 573.02,310.22 575.16,307.24 577.36,304.21 579.63,301.14 583.07,296.59 585.83,293.06 588.15,290.17 590.18,287.73 591.99,285.61 593.63,283.75 595.14,282.08 596.54,280.57 597.84,279.20 599.08,277.94 600.25,276.77 601.36,275.69 602.43,274.68 603.45,273.73 604.44,272.84 605.39,271.99 606.31,271.20 607.21,270.44 608.07,269.72 608.92,269.04 609.75,268.38 610.55,267.76 611.34,267.16 612.12,266.58 612.87,266.03 613.62,265.49 614.35,264.98 615.07,264.49 615.78,264.01 616.47,263.55 617.16,263.10 617.84,262.67 618.50,262.25 619.16,261.84 619.81,261.45 620.46,261.06 621.09,260.69 621.72,260.33 622.35,259.97 622.96,259.63 623.58,259.30 624.18,258.97 624.78,258.65 625.38,258.34 625.97,258.04 626.55,257.74 627.13,257.45 627.71,257.17 628.28,256.89 628.85,256.62 629.41,256.36 629.97,256.10 630.53,255.85 631.08,255.60 631.63,255.36 632.18,255.12 632.72,254.88 633.26,254.66 633.80,254.43 634.33,254.21 634.86,253.99 635.39,253.78 635.92,253.57 636.44,253.37 636.96,253.17 637.48,252.97 638.00,252.77 638.51,252.58 639.03,252.39 639.54,252.21 640.04,252.03 640.55,251.85 641.06,251.67 641.56,251.50 642.06,251.33 642.56,251.16 643.05,251.00 643.55,250.83 644.04,250.67 644.54,250.52 645.03,250.36 645.52,250.21 646.00,250.06 646.49,249.91 646.98,249.76 647.46,249.61 647.94,249.47 648.42,249.33 648.90,249.19 649.38,249.05 649.86,248.92 650.33,248.79 650.81,248.65 651.28,248.52 651.75,248.40 652.22,248.27 652.70,248.14 653.16,248.02 653.63,247.90 654.10,247.78 654.57,247.66 655.03,247.54 655.50,247.42 655.96,247.31 656.42,247.19 656.88,247.08 657.34,246.97 657.80,246.86 658.26,246.75 658.72,246.64 659.18,246.54 659.64,246.43 660.09,246.33 660.55,246.22 661.00,246.12 661.46,246.02 661.91,245.92 662.37,245.82 662.82,245.72 663.27,245.62 663.72,245.53 664.17,245.43 664.62,245.33 665.07,245.24 665.52,245.14 665.97,245.05 666.42,244.96 666.87,244.86 667.32,244.77 667.77,244.68 668.22,244.58 668.67,244.49 669.12,244.39 669.57,244.30 670.02,244.20 670.47,244.10 670.93,243.99 671.39,243.88 671.90,243.70" fill="none" stroke="#2a8a2a" stroke-width="1.45" stroke-linejoin="round" stroke-linecap="round" />
<polyline points="507.00,407.60 509.66,382.75 509.73,382.08 509.80,381.39 509.88,380.68 509.96,379.95 510.04,379.21 510.12,378.45 510.20,377.67 510.29,376.87 510.37,376.05 510.46,375.21 510.55,374.35 510.65,373.47 510.75,372.57 510.84,371.65 510.95,370.70 511.05,369.73 511.15,368.74 511.26,367.73 511.37,366.69 511.49,365.63 511.60,364.55 511.72,363.44 511.84,362.30 511.97,361.14 512.10,359.96 512.23,358.74 512.36,357.50 512.50,356.23 512.64,354.94 512.78,353.61 512.93,352.26 513.08,350.87 513.23,349.46 513.39,348.02 513.55,346.54 513.71,345.04 513.88,343.50 514.06,341.94 514.24,340.34 514.42,338.70 514.61,337.04 514.81,335.34 515.02,333.61 515.23,331.84 515.45,330.04 515.69,328.20 515.93,326.33 516.20,324.42 516.47,322.48 516.77,320.50 517.09,318.49 517.44,316.44 517.82,314.35 518.24,312.22 518.72,310.06 519.25,307.86 519.85,305.62 520.54,303.34 521.34,301.03 522.75,297.58 524.08,294.88 525.35,292.65 526.60,290.75 527.81,289.09 529.01,287.62 530.19,286.29 531.36,285.08 532.52,283.97 533.67,282.94 534.81,281.98 535.94,281.09 537.07,280.25 538.19,279.45 539.31,278.70 540.43,277.99 541.54,277.31 542.65,276.66 543.76,276.04 544.86,275.44 545.96,274.87 547.06,274.32 548.15,273.78 549.25,273.27 550.34,272.77 551.43,272.29 552.52,271.83 553.61,271.37 554.69,270.94 555.78,270.51 556.86,270.09 557.94,269.69 559.02,269.29 560.10,268.91 561.18,268.53 562.26,268.17 563.34,267.81 564.41,267.46 565.49,267.11 566.57,266.78 567.64,266.45 568.71,266.12 569.79,265.81 570.86,265.49 571.93,265.19 573.00,264.89 574.07,264.59 575.14,264.30 576.21,264.02 577.28,263.74 578.35,263.46 579.42,263.19 580.49,262.92 581.55,262.66 582.62,262.40 583.69,262.14 584.75,261.89 585.82,261.64 586.88,261.39 587.95,261.15 589.01,260.91 590.08,260.67 591.14,260.43 592.21,260.20 593.27,259.97 594.33,259.75 595.40,259.52 596.46,259.30 597.52,259.08 598.58,258.86 599.65,258.65 600.71,258.44 601.77,258.22 602.83,258.02 603.89,257.81 604.95,257.60 606.01,257.40 607.07,257.20 608.13,257.00 609.19,256.80 610.26,256.60 611.32,256.40 612.37,256.21 613.43,256.02 614.49,255.83 615.55,255.63 616.61,255.45 617.67,255.26 618.73,255.07 619.79,254.88 620.85,254.70 621.91,254.51 622.97,254.33 624.03,254.15 625.08,253.97 626.14,253.78 627.20,253.60 628.26,253.42 629.32,253.24 630.38,253.07 631.43,252.89 632.49,252.71 633.55,252.53 634.61,252.35 635.67,252.18 636.72,252.00 637.78,251.82 638.84,251.64 639.90,251.47 640.96,251.29 642.01,251.11 643.07,250.93 644.13,250.75 645.19,250.57 646.25,250.39 647.31,250.21 648.36,250.03 649.42,249.85 650.48,249.66 651.54,249.48 652.60,249.29 653.66,249.10 654.72,248.91 655.78,248.71 656.84,248.51 657.90,248.31 658.96,248.11 660.02,247.89 661.08,247.68 662.15,247.45 663.21,247.22 664.28,246.98 665.34,246.73 666.41,246.46 667.48,246.17 668.55,245.84 669.63,245.47 670.72,244.99 671.90,243.70" fill="none" stroke="#ff1a1a" stroke-width="1.45" stroke-linejoin="round" stroke-linecap="round" />
<line x1="507.00" y1="407.60" x2="671.90" y2="243.70" stroke="#28289c" stroke-width="1.6" stroke-dasharray="5 2.1"/>
<rect x="623.3" y="385.7" width="54.3" height="26.5" rx="1.5" fill="#ffffff" fill-opacity="0.82" stroke="#d6d6d6" stroke-width="0.8"/>
<line x1="625.00" y1="390.50" x2="638.00" y2="390.50" stroke="#0000ff" stroke-width="1.7" />
<text x="642.00" y="392.60" font-family="'Liberation Sans', sans-serif" font-size="6.1" text-anchor="start" fill="#2a2a2a" stroke="#2a2a2a" stroke-width="0.06" transform="translate(642.00 392.60) rotate(0) scale(1 1.1) translate(-642.00 -392.60)" >Our Method</text>
<line x1="625.00" y1="399.00" x2="638.00" y2="399.00" stroke="#4a9a4a" stroke-width="1.7" />
<text x="642.00" y="401.10" font-family="'Liberation Sans', sans-serif" font-size="6.1" text-anchor="start" fill="#2a2a2a" stroke="#2a2a2a" stroke-width="0.06" transform="translate(642.00 401.10) rotate(0) scale(1 1.1) translate(-642.00 -401.10)" >RAPPPID</text>
<line x1="625.00" y1="407.60" x2="638.00" y2="407.60" stroke="#ff1a1a" stroke-width="1.7" />
<text x="642.00" y="409.70" font-family="'Liberation Sans', sans-serif" font-size="6.1" text-anchor="start" fill="#2a2a2a" stroke="#2a2a2a" stroke-width="0.06" transform="translate(642.00 409.70) rotate(0) scale(1 1.1) translate(-642.00 -409.70)" >Topsy-Turvy</text>
<line x1="36.70" y1="480.60" x2="223.40" y2="480.60" stroke="#dcdcdc" stroke-width="1.0" />
<line x1="36.70" y1="496.40" x2="223.40" y2="496.40" stroke="#dcdcdc" stroke-width="1.0" />
<line x1="36.70" y1="512.40" x2="223.40" y2="512.40" stroke="#dcdcdc" stroke-width="1.0" />
<line x1="36.70" y1="528.60" x2="223.40" y2="528.60" stroke="#dcdcdc" stroke-width="1.0" />
<line x1="36.70" y1="544.90" x2="223.40" y2="544.90" stroke="#dcdcdc" stroke-width="1.0" />
<line x1="36.70" y1="561.10" x2="223.40" y2="561.10" stroke="#dcdcdc" stroke-width="1.0" />
<line x1="36.70" y1="577.40" x2="223.40" y2="577.40" stroke="#dcdcdc" stroke-width="1.0" />
<line x1="36.70" y1="593.50" x2="223.40" y2="593.50" stroke="#dcdcdc" stroke-width="1.0" />
<line x1="36.70" y1="609.70" x2="223.40" y2="609.70" stroke="#dcdcdc" stroke-width="1.0" />
<line x1="45.20" y1="475.40" x2="45.20" y2="614.40" stroke="#d4d4d4" stroke-width="1.0" />
<line x1="79.60" y1="475.40" x2="79.60" y2="614.40" stroke="#d4d4d4" stroke-width="1.0" />
<line x1="114.00" y1="475.40" x2="114.00" y2="614.40" stroke="#d4d4d4" stroke-width="1.0" />
<line x1="148.40" y1="475.40" x2="148.40" y2="614.40" stroke="#d4d4d4" stroke-width="1.0" />
<line x1="182.80" y1="475.40" x2="182.80" y2="614.40" stroke="#d4d4d4" stroke-width="1.0" />
<line x1="217.20" y1="475.40" x2="217.20" y2="614.40" stroke="#d4d4d4" stroke-width="1.0" />
<polyline points="45.20,481.39 46.92,518.19 48.64,558.79 50.36,576.33 52.08,584.93 53.80,593.54 55.52,592.57 57.24,596.71 58.96,598.90 60.68,599.96 62.40,600.77 64.12,600.50 65.84,600.80 67.56,601.65 69.28,602.03 71.00,602.66 72.72,603.67 74.44,604.10 76.16,603.53 77.88,604.57 79.60,604.97 81.32,604.22 83.04,604.93 84.76,604.62 86.48,605.15 88.20,605.08 89.92,605.74 91.64,605.31 93.36,605.16 95.08,605.66 96.80,605.53 98.52,605.66 100.24,606.41 101.96,605.68 103.68,605.93 105.40,606.31 107.12,606.68 108.84,605.78 110.56,606.29 112.28,606.07 114.00,605.94 115.72,606.18 117.44,605.99 119.16,606.64 120.88,606.22 122.60,606.68 124.32,606.17 126.04,606.28 127.76,607.22 129.48,607.22 131.20,607.18 132.92,606.35 134.64,606.98 136.36,606.79 138.08,607.18 139.80,606.97 141.52,607.13 143.24,607.20 144.96,606.96 146.68,606.98 148.40,606.64 150.12,606.88 151.84,606.58 153.56,606.65 155.28,606.48 157.00,606.83 158.72,607.39 160.44,606.58 162.16,606.44 163.88,606.50 165.60,606.86 167.32,606.66 169.04,607.20 170.76,606.46 172.48,606.73 174.20,607.02 175.92,607.24 177.64,606.31 179.36,606.12 181.08,607.11 182.80,606.27 184.52,606.65 186.24,606.88 187.96,606.65 189.68,606.05 191.40,605.87 193.12,606.74 194.84,606.03 196.56,606.61 198.28,605.78 200.00,606.16 201.72,605.27 203.44,604.90 205.16,605.18 206.88,604.36 208.60,604.88 210.32,604.62 212.04,603.85 213.76,603.20 215.48,598.82" fill="none" stroke="#707070" stroke-width="1.3" stroke-linejoin="round" stroke-linecap="round" />
<circle cx="45.20" cy="481.39" r="0.85" fill="#666"/>
<circle cx="46.92" cy="518.19" r="0.85" fill="#666"/>
<circle cx="48.64" cy="558.79" r="0.85" fill="#666"/>
<circle cx="50.36" cy="576.33" r="0.85" fill="#666"/>
<circle cx="52.08" cy="584.93" r="0.85" fill="#666"/>
<circle cx="53.80" cy="593.54" r="0.85" fill="#666"/>
<circle cx="55.52" cy="592.57" r="0.85" fill="#666"/>
<circle cx="57.24" cy="596.71" r="0.85" fill="#666"/>
<circle cx="58.96" cy="598.90" r="0.85" fill="#666"/>
<circle cx="60.68" cy="599.96" r="0.85" fill="#666"/>
<circle cx="62.40" cy="600.77" r="0.85" fill="#666"/>
<circle cx="64.12" cy="600.50" r="0.85" fill="#666"/>
<circle cx="65.84" cy="600.80" r="0.85" fill="#666"/>
<circle cx="67.56" cy="601.65" r="0.85" fill="#666"/>
<circle cx="69.28" cy="602.03" r="0.85" fill="#666"/>
<circle cx="71.00" cy="602.66" r="0.85" fill="#666"/>
<circle cx="72.72" cy="603.67" r="0.85" fill="#666"/>
<circle cx="74.44" cy="604.10" r="0.85" fill="#666"/>
<circle cx="76.16" cy="603.53" r="0.85" fill="#666"/>
<circle cx="77.88" cy="604.57" r="0.85" fill="#666"/>
<circle cx="79.60" cy="604.97" r="0.85" fill="#666"/>
<circle cx="81.32" cy="604.22" r="0.85" fill="#666"/>
<circle cx="83.04" cy="604.93" r="0.85" fill="#666"/>
<circle cx="84.76" cy="604.62" r="0.85" fill="#666"/>
<circle cx="86.48" cy="605.15" r="0.85" fill="#666"/>
<circle cx="88.20" cy="605.08" r="0.85" fill="#666"/>
<circle cx="89.92" cy="605.74" r="0.85" fill="#666"/>
<circle cx="91.64" cy="605.31" r="0.85" fill="#666"/>
<circle cx="93.36" cy="605.16" r="0.85" fill="#666"/>
<circle cx="95.08" cy="605.66" r="0.85" fill="#666"/>
<circle cx="96.80" cy="605.53" r="0.85" fill="#666"/>
<circle cx="98.52" cy="605.66" r="0.85" fill="#666"/>
<circle cx="100.24" cy="606.41" r="0.85" fill="#666"/>
<circle cx="101.96" cy="605.68" r="0.85" fill="#666"/>
<circle cx="103.68" cy="605.93" r="0.85" fill="#666"/>
<circle cx="105.40" cy="606.31" r="0.85" fill="#666"/>
<circle cx="107.12" cy="606.68" r="0.85" fill="#666"/>
<circle cx="108.84" cy="605.78" r="0.85" fill="#666"/>
<circle cx="110.56" cy="606.29" r="0.85" fill="#666"/>
<circle cx="112.28" cy="606.07" r="0.85" fill="#666"/>
<circle cx="114.00" cy="605.94" r="0.85" fill="#666"/>
<circle cx="115.72" cy="606.18" r="0.85" fill="#666"/>
<circle cx="117.44" cy="605.99" r="0.85" fill="#666"/>
<circle cx="119.16" cy="606.64" r="0.85" fill="#666"/>
<circle cx="120.88" cy="606.22" r="0.85" fill="#666"/>
<circle cx="122.60" cy="606.68" r="0.85" fill="#666"/>
<circle cx="124.32" cy="606.17" r="0.85" fill="#666"/>
<circle cx="126.04" cy="606.28" r="0.85" fill="#666"/>
<circle cx="127.76" cy="607.22" r="0.85" fill="#666"/>
<circle cx="129.48" cy="607.22" r="0.85" fill="#666"/>
<circle cx="131.20" cy="607.18" r="0.85" fill="#666"/>
<circle cx="132.92" cy="606.35" r="0.85" fill="#666"/>
<circle cx="134.64" cy="606.98" r="0.85" fill="#666"/>
<circle cx="136.36" cy="606.79" r="0.85" fill="#666"/>
<circle cx="138.08" cy="607.18" r="0.85" fill="#666"/>
<circle cx="139.80" cy="606.97" r="0.85" fill="#666"/>
<circle cx="141.52" cy="607.13" r="0.85" fill="#666"/>
<circle cx="143.24" cy="607.20" r="0.85" fill="#666"/>
<circle cx="144.96" cy="606.96" r="0.85" fill="#666"/>
<circle cx="146.68" cy="606.98" r="0.85" fill="#666"/>
<circle cx="148.40" cy="606.64" r="0.85" fill="#666"/>
<circle cx="150.12" cy="606.88" r="0.85" fill="#666"/>
<circle cx="151.84" cy="606.58" r="0.85" fill="#666"/>
<circle cx="153.56" cy="606.65" r="0.85" fill="#666"/>
<circle cx="155.28" cy="606.48" r="0.85" fill="#666"/>
<circle cx="157.00" cy="606.83" r="0.85" fill="#666"/>
<circle cx="158.72" cy="607.39" r="0.85" fill="#666"/>
<circle cx="160.44" cy="606.58" r="0.85" fill="#666"/>
<circle cx="162.16" cy="606.44" r="0.85" fill="#666"/>
<circle cx="163.88" cy="606.50" r="0.85" fill="#666"/>
<circle cx="165.60" cy="606.86" r="0.85" fill="#666"/>
<circle cx="167.32" cy="606.66" r="0.85" fill="#666"/>
<circle cx="169.04" cy="607.20" r="0.85" fill="#666"/>
<circle cx="170.76" cy="606.46" r="0.85" fill="#666"/>
<circle cx="172.48" cy="606.73" r="0.85" fill="#666"/>
<circle cx="174.20" cy="607.02" r="0.85" fill="#666"/>
<circle cx="175.92" cy="607.24" r="0.85" fill="#666"/>
<circle cx="177.64" cy="606.31" r="0.85" fill="#666"/>
<circle cx="179.36" cy="606.12" r="0.85" fill="#666"/>
<circle cx="181.08" cy="607.11" r="0.85" fill="#666"/>
<circle cx="182.80" cy="606.27" r="0.85" fill="#666"/>
<circle cx="184.52" cy="606.65" r="0.85" fill="#666"/>
<circle cx="186.24" cy="606.88" r="0.85" fill="#666"/>
<circle cx="187.96" cy="606.65" r="0.85" fill="#666"/>
<circle cx="189.68" cy="606.05" r="0.85" fill="#666"/>
<circle cx="191.40" cy="605.87" r="0.85" fill="#666"/>
<circle cx="193.12" cy="606.74" r="0.85" fill="#666"/>
<circle cx="194.84" cy="606.03" r="0.85" fill="#666"/>
<circle cx="196.56" cy="606.61" r="0.85" fill="#666"/>
<circle cx="198.28" cy="605.78" r="0.85" fill="#666"/>
<circle cx="200.00" cy="606.16" r="0.85" fill="#666"/>
<circle cx="201.72" cy="605.27" r="0.85" fill="#666"/>
<circle cx="203.44" cy="604.90" r="0.85" fill="#666"/>
<circle cx="205.16" cy="605.18" r="0.85" fill="#666"/>
<circle cx="206.88" cy="604.36" r="0.85" fill="#666"/>
<circle cx="208.60" cy="604.88" r="0.85" fill="#666"/>
<circle cx="210.32" cy="604.62" r="0.85" fill="#666"/>
<circle cx="212.04" cy="603.85" r="0.85" fill="#666"/>
<circle cx="213.76" cy="603.20" r="0.85" fill="#666"/>
<circle cx="215.48" cy="598.82" r="0.85" fill="#666"/>
<line x1="44.10" y1="481.39" x2="46.30" y2="481.39" stroke="#555" stroke-width="0.8" />
<line x1="45.20" y1="480.29" x2="45.20" y2="482.49" stroke="#555" stroke-width="0.8" />
<line x1="45.82" y1="518.19" x2="48.02" y2="518.19" stroke="#555" stroke-width="0.8" />
<line x1="46.92" y1="517.09" x2="46.92" y2="519.29" stroke="#555" stroke-width="0.8" />
<line x1="47.54" y1="558.79" x2="49.74" y2="558.79" stroke="#555" stroke-width="0.8" />
<line x1="48.64" y1="557.69" x2="48.64" y2="559.89" stroke="#555" stroke-width="0.8" />
<line x1="49.26" y1="576.33" x2="51.46" y2="576.33" stroke="#555" stroke-width="0.8" />
<line x1="50.36" y1="575.23" x2="50.36" y2="577.43" stroke="#555" stroke-width="0.8" />
<line x1="50.98" y1="584.93" x2="53.18" y2="584.93" stroke="#555" stroke-width="0.8" />
<line x1="52.08" y1="583.83" x2="52.08" y2="586.03" stroke="#555" stroke-width="0.8" />
<line x1="52.70" y1="593.54" x2="54.90" y2="593.54" stroke="#555" stroke-width="0.8" />
<line x1="53.80" y1="592.44" x2="53.80" y2="594.64" stroke="#555" stroke-width="0.8" />
<line x1="54.42" y1="592.57" x2="56.62" y2="592.57" stroke="#555" stroke-width="0.8" />
<line x1="55.52" y1="591.47" x2="55.52" y2="593.67" stroke="#555" stroke-width="0.8" />
<line x1="56.14" y1="596.71" x2="58.34" y2="596.71" stroke="#555" stroke-width="0.8" />
<line x1="57.24" y1="595.61" x2="57.24" y2="597.81" stroke="#555" stroke-width="0.8" />
<line x1="57.86" y1="598.90" x2="60.06" y2="598.90" stroke="#555" stroke-width="0.8" />
<line x1="58.96" y1="597.80" x2="58.96" y2="600.00" stroke="#555" stroke-width="0.8" />
<line x1="59.58" y1="599.96" x2="61.78" y2="599.96" stroke="#555" stroke-width="0.8" />
<line x1="60.68" y1="598.86" x2="60.68" y2="601.06" stroke="#555" stroke-width="0.8" />
<line x1="61.30" y1="600.77" x2="63.50" y2="600.77" stroke="#555" stroke-width="0.8" />
<line x1="62.40" y1="599.67" x2="62.40" y2="601.87" stroke="#555" stroke-width="0.8" />
<line x1="63.02" y1="600.50" x2="65.22" y2="600.50" stroke="#555" stroke-width="0.8" />
<line x1="64.12" y1="599.40" x2="64.12" y2="601.60" stroke="#555" stroke-width="0.8" />
<line x1="214.30" y1="475.40" x2="214.30" y2="614.40" stroke="#F3B25E" stroke-width="1.6" stroke-dasharray="3 2"/>
<text x="213.20" y="486.30" font-family="'Liberation Sans', sans-serif" font-size="7.4" text-anchor="end" fill="#F0A048" stroke="#F0A048" stroke-width="0.1" transform="translate(213.20 486.30) rotate(0) scale(1 1.1) translate(-213.20 -486.30)" >HER2</text>
<text x="213.20" y="495.40" font-family="'Liberation Sans', sans-serif" font-size="7.4" text-anchor="end" fill="#F0A048" stroke="#F0A048" stroke-width="0.1" transform="translate(213.20 495.40) rotate(0) scale(1 1.1) translate(-213.20 -495.40)" >0.985</text>
<line x1="36.70" y1="475.40" x2="223.40" y2="475.40" stroke="#9a9a9a" stroke-width="1.6" />
<line x1="223.40" y1="475.40" x2="223.40" y2="614.40" stroke="#555" stroke-width="1.2" />
<line x1="36.70" y1="614.40" x2="223.40" y2="614.40" stroke="#444" stroke-width="1.4" />
<line x1="36.70" y1="475.40" x2="36.70" y2="614.40" stroke="#555" stroke-width="1.3" />
<line x1="34.50" y1="480.60" x2="36.70" y2="480.60" stroke="#555" stroke-width="1.0" />
<text x="34.30" y="483.20" font-family="'Liberation Sans', sans-serif" font-size="7.15" text-anchor="end" fill="#222" stroke="#222" stroke-width="0.22" transform="translate(34.30 483.20) rotate(0) scale(1 1.1) translate(-34.30 -483.20)" >10000</text>
<line x1="34.50" y1="496.40" x2="36.70" y2="496.40" stroke="#555" stroke-width="1.0" />
<text x="34.30" y="499.00" font-family="'Liberation Sans', sans-serif" font-size="7.15" text-anchor="end" fill="#222" stroke="#222" stroke-width="0.22" transform="translate(34.30 499.00) rotate(0) scale(1 1.1) translate(-34.30 -499.00)" >9800</text>
<line x1="34.50" y1="512.40" x2="36.70" y2="512.40" stroke="#555" stroke-width="1.0" />
<text x="34.30" y="515.00" font-family="'Liberation Sans', sans-serif" font-size="7.15" text-anchor="end" fill="#222" stroke="#222" stroke-width="0.22" transform="translate(34.30 515.00) rotate(0) scale(1 1.1) translate(-34.30 -515.00)" >1200</text>
<line x1="34.50" y1="528.60" x2="36.70" y2="528.60" stroke="#555" stroke-width="1.0" />
<text x="34.30" y="531.20" font-family="'Liberation Sans', sans-serif" font-size="7.15" text-anchor="end" fill="#222" stroke="#222" stroke-width="0.22" transform="translate(34.30 531.20) rotate(0) scale(1 1.1) translate(-34.30 -531.20)" >1000</text>
<line x1="34.50" y1="544.90" x2="36.70" y2="544.90" stroke="#555" stroke-width="1.0" />
<text x="34.30" y="547.50" font-family="'Liberation Sans', sans-serif" font-size="7.15" text-anchor="end" fill="#222" stroke="#222" stroke-width="0.22" transform="translate(34.30 547.50) rotate(0) scale(1 1.1) translate(-34.30 -547.50)" >800</text>
<line x1="34.50" y1="561.10" x2="36.70" y2="561.10" stroke="#555" stroke-width="1.0" />
<text x="34.30" y="563.70" font-family="'Liberation Sans', sans-serif" font-size="7.15" text-anchor="end" fill="#222" stroke="#222" stroke-width="0.22" transform="translate(34.30 563.70) rotate(0) scale(1 1.1) translate(-34.30 -563.70)" >600</text>
<line x1="34.50" y1="577.40" x2="36.70" y2="577.40" stroke="#555" stroke-width="1.0" />
<text x="34.30" y="580.00" font-family="'Liberation Sans', sans-serif" font-size="7.15" text-anchor="end" fill="#222" stroke="#222" stroke-width="0.22" transform="translate(34.30 580.00) rotate(0) scale(1 1.1) translate(-34.30 -580.00)" >400</text>
<line x1="34.50" y1="593.50" x2="36.70" y2="593.50" stroke="#555" stroke-width="1.0" />
<text x="34.30" y="596.10" font-family="'Liberation Sans', sans-serif" font-size="7.15" text-anchor="end" fill="#222" stroke="#222" stroke-width="0.22" transform="translate(34.30 596.10) rotate(0) scale(1 1.1) translate(-34.30 -596.10)" >200</text>
<line x1="34.50" y1="609.70" x2="36.70" y2="609.70" stroke="#555" stroke-width="1.0" />
<text x="34.30" y="612.30" font-family="'Liberation Sans', sans-serif" font-size="7.15" text-anchor="end" fill="#222" stroke="#222" stroke-width="0.22" transform="translate(34.30 612.30) rotate(0) scale(1 1.1) translate(-34.30 -612.30)" >0</text>
<rect x="35.20" y="496.60" width="3.00" height="15.60" fill="#ffffff" stroke="none" stroke-width="1" />
<polyline points="36.70,496.40 38.00,497.85 35.60,499.31 38.00,500.76 35.60,502.22 38.00,503.67 35.60,505.13 38.00,506.58 35.60,508.04 38.00,509.49 35.60,510.95 36.70,512.40" fill="none" stroke="#5a5a5a" stroke-width="0.75" stroke-linejoin="round" stroke-linecap="round" />
<line x1="45.20" y1="614.40" x2="45.20" y2="616.60" stroke="#555" stroke-width="1.0" />
<text x="45.20" y="624.10" font-family="'Liberation Sans', sans-serif" font-size="7.3" text-anchor="middle" fill="#222" stroke="#222" stroke-width="0.22" transform="translate(45.20 624.10) rotate(0) scale(1 1.1) translate(-45.20 -624.10)" >0.0</text>
<line x1="79.60" y1="614.40" x2="79.60" y2="616.60" stroke="#555" stroke-width="1.0" />
<text x="79.60" y="624.10" font-family="'Liberation Sans', sans-serif" font-size="7.3" text-anchor="middle" fill="#222" stroke="#222" stroke-width="0.22" transform="translate(79.60 624.10) rotate(0) scale(1 1.1) translate(-79.60 -624.10)" >0.2</text>
<line x1="114.00" y1="614.40" x2="114.00" y2="616.60" stroke="#555" stroke-width="1.0" />
<text x="114.00" y="624.10" font-family="'Liberation Sans', sans-serif" font-size="7.3" text-anchor="middle" fill="#222" stroke="#222" stroke-width="0.22" transform="translate(114.00 624.10) rotate(0) scale(1 1.1) translate(-114.00 -624.10)" >0.4</text>
<line x1="148.40" y1="614.40" x2="148.40" y2="616.60" stroke="#555" stroke-width="1.0" />
<text x="148.40" y="624.10" font-family="'Liberation Sans', sans-serif" font-size="7.3" text-anchor="middle" fill="#222" stroke="#222" stroke-width="0.22" transform="translate(148.40 624.10) rotate(0) scale(1 1.1) translate(-148.40 -624.10)" >0.6</text>
<line x1="182.80" y1="614.40" x2="182.80" y2="616.60" stroke="#555" stroke-width="1.0" />
<text x="182.80" y="624.10" font-family="'Liberation Sans', sans-serif" font-size="7.3" text-anchor="middle" fill="#222" stroke="#222" stroke-width="0.22" transform="translate(182.80 624.10) rotate(0) scale(1 1.1) translate(-182.80 -624.10)" >0.8</text>
<line x1="217.20" y1="614.40" x2="217.20" y2="616.60" stroke="#555" stroke-width="1.0" />
<text x="217.20" y="624.10" font-family="'Liberation Sans', sans-serif" font-size="7.3" text-anchor="middle" fill="#222" stroke="#222" stroke-width="0.22" transform="translate(217.20 624.10) rotate(0) scale(1 1.1) translate(-217.20 -624.10)" >1.0</text>
<text x="130.35" y="638.00" font-family="'Liberation Sans', sans-serif" font-size="9.35" text-anchor="middle" fill="#222" stroke="#222" stroke-width="0.22" transform="translate(130.35 638.00) rotate(0) scale(1 1.1) translate(-130.35 -638.00)" >Probability</text>
<text x="124.70" y="459.00" font-family="'Liberation Sans', sans-serif" font-size="9.5" text-anchor="middle" fill="#222" stroke="#222" stroke-width="0.22" transform="translate(124.70 459.00) rotate(0) scale(1 1.1) translate(-124.70 -459.00)" >Distribution of Trastuzumab-Human Proteome</text>
<text x="124.60" y="469.80" font-family="'Liberation Sans', sans-serif" font-size="9.5" text-anchor="middle" fill="#222" stroke="#222" stroke-width="0.22" transform="translate(124.60 469.80) rotate(0) scale(1 1.1) translate(-124.60 -469.80)" >Predicted Interaction Probabilities</text>
<text x="9.50" y="457.70" font-family="'Liberation Sans', sans-serif" font-size="12.2" text-anchor="start" fill="#111" stroke="#111" stroke-width="0.4" transform="translate(9.50 457.70) rotate(0) scale(1 1.0) translate(-9.50 -457.70)" >f</text>
<text x="14.60" y="543.20" font-family="'Liberation Sans', sans-serif" font-size="9.15" text-anchor="middle" fill="#222" stroke="#222" stroke-width="0.22" transform="translate(14.60 543.20) rotate(-90) scale(1 1.1) translate(-14.60 -543.20)" >Proteins</text>
<line x1="263.70" y1="480.60" x2="450.40" y2="480.60" stroke="#dcdcdc" stroke-width="1.0" />
<line x1="263.70" y1="499.00" x2="450.40" y2="499.00" stroke="#dcdcdc" stroke-width="1.0" />
<line x1="263.70" y1="517.40" x2="450.40" y2="517.40" stroke="#dcdcdc" stroke-width="1.0" />
<line x1="263.70" y1="535.70" x2="450.40" y2="535.70" stroke="#dcdcdc" stroke-width="1.0" />
<line x1="263.70" y1="554.00" x2="450.40" y2="554.00" stroke="#dcdcdc" stroke-width="1.0" />
<line x1="263.70" y1="572.40" x2="450.40" y2="572.40" stroke="#dcdcdc" stroke-width="1.0" />
<line x1="263.70" y1="590.70" x2="450.40" y2="590.70" stroke="#dcdcdc" stroke-width="1.0" />
<line x1="263.70" y1="609.10" x2="450.40" y2="609.10" stroke="#dcdcdc" stroke-width="1.0" />
<line x1="272.40" y1="475.00" x2="272.40" y2="614.20" stroke="#d4d4d4" stroke-width="1.0" />
<line x1="306.70" y1="475.00" x2="306.70" y2="614.20" stroke="#d4d4d4" stroke-width="1.0" />
<line x1="341.00" y1="475.00" x2="341.00" y2="614.20" stroke="#d4d4d4" stroke-width="1.0" />
<line x1="375.30" y1="475.00" x2="375.30" y2="614.20" stroke="#d4d4d4" stroke-width="1.0" />
<line x1="409.60" y1="475.00" x2="409.60" y2="614.20" stroke="#d4d4d4" stroke-width="1.0" />
<line x1="443.90" y1="475.00" x2="443.90" y2="614.20" stroke="#d4d4d4" stroke-width="1.0" />
<polyline points="272.40,481.52 274.11,521.72 275.83,564.17 277.54,579.73 279.26,585.04 280.97,592.26 282.69,595.01 284.40,596.29 286.12,597.02 287.83,601.05 289.55,601.78 291.26,602.24 292.98,601.68 294.69,602.56 296.41,602.57 298.12,603.97 299.84,603.31 301.55,603.45 303.27,603.77 304.98,603.12 306.70,603.65 308.41,603.31 310.13,603.94 311.84,604.08 313.56,603.82 315.27,603.47 316.99,604.53 318.70,604.57 320.42,604.22 322.13,603.97 323.85,604.61 325.56,604.89 327.28,604.19 329.00,605.43 330.71,604.43 332.42,605.21 334.14,605.44 335.85,605.52 337.57,605.32 339.28,604.71 341.00,605.57 342.71,605.12 344.43,605.10 346.14,605.49 347.86,605.32 349.57,606.00 351.29,606.06 353.00,605.93 354.72,605.37 356.43,605.75 358.15,605.95 359.87,605.66 361.58,605.88 363.29,606.14 365.01,605.56 366.72,605.73 368.44,606.37 370.15,606.00 371.87,606.12 373.58,605.73 375.30,605.97 377.01,606.57 378.73,605.72 380.44,606.86 382.16,606.51 383.88,606.12 385.59,606.93 387.30,606.53 389.02,607.15 390.73,606.38 392.45,606.29 394.16,606.58 395.88,606.24 397.59,607.01 399.31,606.56 401.02,606.74 402.74,606.80 404.45,607.01 406.17,606.56 407.88,606.47 409.60,607.12 411.31,606.84 413.03,607.58 414.75,606.72 416.46,606.75 418.17,606.27 419.89,606.38 421.61,606.96 423.32,606.72 425.03,606.25 426.75,606.97 428.46,606.20 430.18,606.37 431.89,606.24 433.61,606.11 435.32,604.99 437.04,605.61 438.75,605.25 440.47,604.87 442.18,604.43" fill="none" stroke="#707070" stroke-width="1.3" stroke-linejoin="round" stroke-linecap="round" />
<circle cx="272.40" cy="481.52" r="0.85" fill="#666"/>
<circle cx="274.11" cy="521.72" r="0.85" fill="#666"/>
<circle cx="275.83" cy="564.17" r="0.85" fill="#666"/>
<circle cx="277.54" cy="579.73" r="0.85" fill="#666"/>
<circle cx="279.26" cy="585.04" r="0.85" fill="#666"/>
<circle cx="280.97" cy="592.26" r="0.85" fill="#666"/>
<circle cx="282.69" cy="595.01" r="0.85" fill="#666"/>
<circle cx="284.40" cy="596.29" r="0.85" fill="#666"/>
<circle cx="286.12" cy="597.02" r="0.85" fill="#666"/>
<circle cx="287.83" cy="601.05" r="0.85" fill="#666"/>
<circle cx="289.55" cy="601.78" r="0.85" fill="#666"/>
<circle cx="291.26" cy="602.24" r="0.85" fill="#666"/>
<circle cx="292.98" cy="601.68" r="0.85" fill="#666"/>
<circle cx="294.69" cy="602.56" r="0.85" fill="#666"/>
<circle cx="296.41" cy="602.57" r="0.85" fill="#666"/>
<circle cx="298.12" cy="603.97" r="0.85" fill="#666"/>
<circle cx="299.84" cy="603.31" r="0.85" fill="#666"/>
<circle cx="301.55" cy="603.45" r="0.85" fill="#666"/>
<circle cx="303.27" cy="603.77" r="0.85" fill="#666"/>
<circle cx="304.98" cy="603.12" r="0.85" fill="#666"/>
<circle cx="306.70" cy="603.65" r="0.85" fill="#666"/>
<circle cx="308.41" cy="603.31" r="0.85" fill="#666"/>
<circle cx="310.13" cy="603.94" r="0.85" fill="#666"/>
<circle cx="311.84" cy="604.08" r="0.85" fill="#666"/>
<circle cx="313.56" cy="603.82" r="0.85" fill="#666"/>
<circle cx="315.27" cy="603.47" r="0.85" fill="#666"/>
<circle cx="316.99" cy="604.53" r="0.85" fill="#666"/>
<circle cx="318.70" cy="604.57" r="0.85" fill="#666"/>
<circle cx="320.42" cy="604.22" r="0.85" fill="#666"/>
<circle cx="322.13" cy="603.97" r="0.85" fill="#666"/>
<circle cx="323.85" cy="604.61" r="0.85" fill="#666"/>
<circle cx="325.56" cy="604.89" r="0.85" fill="#666"/>
<circle cx="327.28" cy="604.19" r="0.85" fill="#666"/>
<circle cx="329.00" cy="605.43" r="0.85" fill="#666"/>
<circle cx="330.71" cy="604.43" r="0.85" fill="#666"/>
<circle cx="332.42" cy="605.21" r="0.85" fill="#666"/>
<circle cx="334.14" cy="605.44" r="0.85" fill="#666"/>
<circle cx="335.85" cy="605.52" r="0.85" fill="#666"/>
<circle cx="337.57" cy="605.32" r="0.85" fill="#666"/>
<circle cx="339.28" cy="604.71" r="0.85" fill="#666"/>
<circle cx="341.00" cy="605.57" r="0.85" fill="#666"/>
<circle cx="342.71" cy="605.12" r="0.85" fill="#666"/>
<circle cx="344.43" cy="605.10" r="0.85" fill="#666"/>
<circle cx="346.14" cy="605.49" r="0.85" fill="#666"/>
<circle cx="347.86" cy="605.32" r="0.85" fill="#666"/>
<circle cx="349.57" cy="606.00" r="0.85" fill="#666"/>
<circle cx="351.29" cy="606.06" r="0.85" fill="#666"/>
<circle cx="353.00" cy="605.93" r="0.85" fill="#666"/>
<circle cx="354.72" cy="605.37" r="0.85" fill="#666"/>
<circle cx="356.43" cy="605.75" r="0.85" fill="#666"/>
<circle cx="358.15" cy="605.95" r="0.85" fill="#666"/>
<circle cx="359.87" cy="605.66" r="0.85" fill="#666"/>
<circle cx="361.58" cy="605.88" r="0.85" fill="#666"/>
<circle cx="363.29" cy="606.14" r="0.85" fill="#666"/>
<circle cx="365.01" cy="605.56" r="0.85" fill="#666"/>
<circle cx="366.72" cy="605.73" r="0.85" fill="#666"/>
<circle cx="368.44" cy="606.37" r="0.85" fill="#666"/>
<circle cx="370.15" cy="606.00" r="0.85" fill="#666"/>
<circle cx="371.87" cy="606.12" r="0.85" fill="#666"/>
<circle cx="373.58" cy="605.73" r="0.85" fill="#666"/>
<circle cx="375.30" cy="605.97" r="0.85" fill="#666"/>
<circle cx="377.01" cy="606.57" r="0.85" fill="#666"/>
<circle cx="378.73" cy="605.72" r="0.85" fill="#666"/>
<circle cx="380.44" cy="606.86" r="0.85" fill="#666"/>
<circle cx="382.16" cy="606.51" r="0.85" fill="#666"/>
<circle cx="383.88" cy="606.12" r="0.85" fill="#666"/>
<circle cx="385.59" cy="606.93" r="0.85" fill="#666"/>
<circle cx="387.30" cy="606.53" r="0.85" fill="#666"/>
<circle cx="389.02" cy="607.15" r="0.85" fill="#666"/>
<circle cx="390.73" cy="606.38" r="0.85" fill="#666"/>
<circle cx="392.45" cy="606.29" r="0.85" fill="#666"/>
<circle cx="394.16" cy="606.58" r="0.85" fill="#666"/>
<circle cx="395.88" cy="606.24" r="0.85" fill="#666"/>
<circle cx="397.59" cy="607.01" r="0.85" fill="#666"/>
<circle cx="399.31" cy="606.56" r="0.85" fill="#666"/>
<circle cx="401.02" cy="606.74" r="0.85" fill="#666"/>
<circle cx="402.74" cy="606.80" r="0.85" fill="#666"/>
<circle cx="404.45" cy="607.01" r="0.85" fill="#666"/>
<circle cx="406.17" cy="606.56" r="0.85" fill="#666"/>
<circle cx="407.88" cy="606.47" r="0.85" fill="#666"/>
<circle cx="409.60" cy="607.12" r="0.85" fill="#666"/>
<circle cx="411.31" cy="606.84" r="0.85" fill="#666"/>
<circle cx="413.03" cy="607.58" r="0.85" fill="#666"/>
<circle cx="414.75" cy="606.72" r="0.85" fill="#666"/>
<circle cx="416.46" cy="606.75" r="0.85" fill="#666"/>
<circle cx="418.17" cy="606.27" r="0.85" fill="#666"/>
<circle cx="419.89" cy="606.38" r="0.85" fill="#666"/>
<circle cx="421.61" cy="606.96" r="0.85" fill="#666"/>
<circle cx="423.32" cy="606.72" r="0.85" fill="#666"/>
<circle cx="425.03" cy="606.25" r="0.85" fill="#666"/>
<circle cx="426.75" cy="606.97" r="0.85" fill="#666"/>
<circle cx="428.46" cy="606.20" r="0.85" fill="#666"/>
<circle cx="430.18" cy="606.37" r="0.85" fill="#666"/>
<circle cx="431.89" cy="606.24" r="0.85" fill="#666"/>
<circle cx="433.61" cy="606.11" r="0.85" fill="#666"/>
<circle cx="435.32" cy="604.99" r="0.85" fill="#666"/>
<circle cx="437.04" cy="605.61" r="0.85" fill="#666"/>
<circle cx="438.75" cy="605.25" r="0.85" fill="#666"/>
<circle cx="440.47" cy="604.87" r="0.85" fill="#666"/>
<circle cx="442.18" cy="604.43" r="0.85" fill="#666"/>
<line x1="271.30" y1="481.52" x2="273.50" y2="481.52" stroke="#555" stroke-width="0.8" />
<line x1="272.40" y1="480.42" x2="272.40" y2="482.62" stroke="#555" stroke-width="0.8" />
<line x1="273.01" y1="521.72" x2="275.21" y2="521.72" stroke="#555" stroke-width="0.8" />
<line x1="274.11" y1="520.62" x2="274.11" y2="522.82" stroke="#555" stroke-width="0.8" />
<line x1="274.73" y1="564.17" x2="276.93" y2="564.17" stroke="#555" stroke-width="0.8" />
<line x1="275.83" y1="563.07" x2="275.83" y2="565.27" stroke="#555" stroke-width="0.8" />
<line x1="276.44" y1="579.73" x2="278.64" y2="579.73" stroke="#555" stroke-width="0.8" />
<line x1="277.54" y1="578.63" x2="277.54" y2="580.83" stroke="#555" stroke-width="0.8" />
<line x1="278.16" y1="585.04" x2="280.36" y2="585.04" stroke="#555" stroke-width="0.8" />
<line x1="279.26" y1="583.94" x2="279.26" y2="586.14" stroke="#555" stroke-width="0.8" />
<line x1="279.87" y1="592.26" x2="282.07" y2="592.26" stroke="#555" stroke-width="0.8" />
<line x1="280.97" y1="591.16" x2="280.97" y2="593.36" stroke="#555" stroke-width="0.8" />
<line x1="281.59" y1="595.01" x2="283.79" y2="595.01" stroke="#555" stroke-width="0.8" />
<line x1="282.69" y1="593.91" x2="282.69" y2="596.11" stroke="#555" stroke-width="0.8" />
<line x1="283.30" y1="596.29" x2="285.50" y2="596.29" stroke="#555" stroke-width="0.8" />
<line x1="284.40" y1="595.19" x2="284.40" y2="597.39" stroke="#555" stroke-width="0.8" />
<line x1="285.02" y1="597.02" x2="287.22" y2="597.02" stroke="#555" stroke-width="0.8" />
<line x1="286.12" y1="595.92" x2="286.12" y2="598.12" stroke="#555" stroke-width="0.8" />
<line x1="286.73" y1="601.05" x2="288.94" y2="601.05" stroke="#555" stroke-width="0.8" />
<line x1="287.83" y1="599.95" x2="287.83" y2="602.15" stroke="#555" stroke-width="0.8" />
<line x1="288.45" y1="601.78" x2="290.65" y2="601.78" stroke="#555" stroke-width="0.8" />
<line x1="289.55" y1="600.68" x2="289.55" y2="602.88" stroke="#555" stroke-width="0.8" />
<line x1="290.16" y1="602.24" x2="292.37" y2="602.24" stroke="#555" stroke-width="0.8" />
<line x1="291.26" y1="601.14" x2="291.26" y2="603.34" stroke="#555" stroke-width="0.8" />
<line x1="430.20" y1="475.00" x2="430.20" y2="614.20" stroke="#EDA035" stroke-width="1.3" stroke-dasharray="3 2"/>
<text x="429.10" y="486.30" font-family="'Liberation Sans', sans-serif" font-size="7.4" text-anchor="end" fill="#F0A048" stroke="#F0A048" stroke-width="0.1" transform="translate(429.10 486.30) rotate(0) scale(1 1.1) translate(-429.10 -486.30)" >HER2</text>
<text x="429.10" y="495.40" font-family="'Liberation Sans', sans-serif" font-size="7.4" text-anchor="end" fill="#F0A048" stroke="#F0A048" stroke-width="0.1" transform="translate(429.10 495.40) rotate(0) scale(1 1.1) translate(-429.10 -495.40)" >0.920</text>
<line x1="263.70" y1="475.00" x2="450.40" y2="475.00" stroke="#9a9a9a" stroke-width="1.6" />
<line x1="450.40" y1="475.00" x2="450.40" y2="614.20" stroke="#555" stroke-width="1.2" />
<line x1="263.70" y1="614.20" x2="450.40" y2="614.20" stroke="#444" stroke-width="1.4" />
<line x1="263.70" y1="475.00" x2="263.70" y2="614.20" stroke="#555" stroke-width="1.3" />
<line x1="261.50" y1="480.60" x2="263.70" y2="480.60" stroke="#555" stroke-width="1.0" />
<text x="261.30" y="483.20" font-family="'Liberation Sans', sans-serif" font-size="7.15" text-anchor="end" fill="#222" stroke="#222" stroke-width="0.22" transform="translate(261.30 483.20) rotate(0) scale(1 1.1) translate(-261.30 -483.20)" >11400</text>
<line x1="261.50" y1="499.00" x2="263.70" y2="499.00" stroke="#555" stroke-width="1.0" />
<text x="261.30" y="501.60" font-family="'Liberation Sans', sans-serif" font-size="7.15" text-anchor="end" fill="#222" stroke="#222" stroke-width="0.22" transform="translate(261.30 501.60) rotate(0) scale(1 1.1) translate(-261.30 -501.60)" >11200</text>
<line x1="261.50" y1="517.40" x2="263.70" y2="517.40" stroke="#555" stroke-width="1.0" />
<text x="261.30" y="520.00" font-family="'Liberation Sans', sans-serif" font-size="7.15" text-anchor="end" fill="#222" stroke="#222" stroke-width="0.22" transform="translate(261.30 520.00) rotate(0) scale(1 1.1) translate(-261.30 -520.00)" >1000</text>
<line x1="261.50" y1="535.70" x2="263.70" y2="535.70" stroke="#555" stroke-width="1.0" />
<text x="261.30" y="538.30" font-family="'Liberation Sans', sans-serif" font-size="7.15" text-anchor="end" fill="#222" stroke="#222" stroke-width="0.22" transform="translate(261.30 538.30) rotate(0) scale(1 1.1) translate(-261.30 -538.30)" >800</text>
<line x1="261.50" y1="554.00" x2="263.70" y2="554.00" stroke="#555" stroke-width="1.0" />
<text x="261.30" y="556.60" font-family="'Liberation Sans', sans-serif" font-size="7.15" text-anchor="end" fill="#222" stroke="#222" stroke-width="0.22" transform="translate(261.30 556.60) rotate(0) scale(1 1.1) translate(-261.30 -556.60)" >600</text>
<line x1="261.50" y1="572.40" x2="263.70" y2="572.40" stroke="#555" stroke-width="1.0" />
<text x="261.30" y="575.00" font-family="'Liberation Sans', sans-serif" font-size="7.15" text-anchor="end" fill="#222" stroke="#222" stroke-width="0.22" transform="translate(261.30 575.00) rotate(0) scale(1 1.1) translate(-261.30 -575.00)" >400</text>
<line x1="261.50" y1="590.70" x2="263.70" y2="590.70" stroke="#555" stroke-width="1.0" />
<text x="261.30" y="593.30" font-family="'Liberation Sans', sans-serif" font-size="7.15" text-anchor="end" fill="#222" stroke="#222" stroke-width="0.22" transform="translate(261.30 593.30) rotate(0) scale(1 1.1) translate(-261.30 -593.30)" >200</text>
<line x1="261.50" y1="609.10" x2="263.70" y2="609.10" stroke="#555" stroke-width="1.0" />
<text x="261.30" y="611.70" font-family="'Liberation Sans', sans-serif" font-size="7.15" text-anchor="end" fill="#222" stroke="#222" stroke-width="0.22" transform="translate(261.30 611.70) rotate(0) scale(1 1.1) translate(-261.30 -611.70)" >0</text>
<rect x="262.20" y="499.20" width="3.00" height="18.00" fill="#ffffff" stroke="none" stroke-width="1" />
<polyline points="263.70,499.00 265.00,500.67 262.60,502.35 265.00,504.02 262.60,505.69 265.00,507.36 262.60,509.04 265.00,510.71 262.60,512.38 265.00,514.05 262.60,515.73 263.70,517.40" fill="none" stroke="#5a5a5a" stroke-width="0.75" stroke-linejoin="round" stroke-linecap="round" />
<line x1="272.40" y1="614.20" x2="272.40" y2="616.40" stroke="#555" stroke-width="1.0" />
<text x="272.40" y="624.10" font-family="'Liberation Sans', sans-serif" font-size="7.3" text-anchor="middle" fill="#222" stroke="#222" stroke-width="0.22" transform="translate(272.40 624.10) rotate(0) scale(1 1.1) translate(-272.40 -624.10)" >0.0</text>
<line x1="306.70" y1="614.20" x2="306.70" y2="616.40" stroke="#555" stroke-width="1.0" />
<text x="306.70" y="624.10" font-family="'Liberation Sans', sans-serif" font-size="7.3" text-anchor="middle" fill="#222" stroke="#222" stroke-width="0.22" transform="translate(306.70 624.10) rotate(0) scale(1 1.1) translate(-306.70 -624.10)" >0.2</text>
<line x1="341.00" y1="614.20" x2="341.00" y2="616.40" stroke="#555" stroke-width="1.0" />
<text x="341.00" y="624.10" font-family="'Liberation Sans', sans-serif" font-size="7.3" text-anchor="middle" fill="#222" stroke="#222" stroke-width="0.22" transform="translate(341.00 624.10) rotate(0) scale(1 1.1) translate(-341.00 -624.10)" >0.4</text>
<line x1="375.30" y1="614.20" x2="375.30" y2="616.40" stroke="#555" stroke-width="1.0" />
<text x="375.30" y="624.10" font-family="'Liberation Sans', sans-serif" font-size="7.3" text-anchor="middle" fill="#222" stroke="#222" stroke-width="0.22" transform="translate(375.30 624.10) rotate(0) scale(1 1.1) translate(-375.30 -624.10)" >0.6</text>
<line x1="409.60" y1="614.20" x2="409.60" y2="616.40" stroke="#555" stroke-width="1.0" />
<text x="409.60" y="624.10" font-family="'Liberation Sans', sans-serif" font-size="7.3" text-anchor="middle" fill="#222" stroke="#222" stroke-width="0.22" transform="translate(409.60 624.10) rotate(0) scale(1 1.1) translate(-409.60 -624.10)" >0.8</text>
<line x1="443.90" y1="614.20" x2="443.90" y2="616.40" stroke="#555" stroke-width="1.0" />
<text x="443.90" y="624.10" font-family="'Liberation Sans', sans-serif" font-size="7.3" text-anchor="middle" fill="#222" stroke="#222" stroke-width="0.22" transform="translate(443.90 624.10) rotate(0) scale(1 1.1) translate(-443.90 -624.10)" >1.0</text>
<text x="357.35" y="638.00" font-family="'Liberation Sans', sans-serif" font-size="9.35" text-anchor="middle" fill="#222" stroke="#222" stroke-width="0.22" transform="translate(357.35 638.00) rotate(0) scale(1 1.1) translate(-357.35 -638.00)" >Probability</text>
<text x="358.90" y="459.00" font-family="'Liberation Sans', sans-serif" font-size="9.5" text-anchor="middle" fill="#222" stroke="#222" stroke-width="0.22" transform="translate(358.90 459.00) rotate(0) scale(1 1.1) translate(-358.90 -459.00)" >Distribution of Pertuzumab-Human Proteome</text>
<text x="358.70" y="469.80" font-family="'Liberation Sans', sans-serif" font-size="9.5" text-anchor="middle" fill="#222" stroke="#222" stroke-width="0.22" transform="translate(358.70 469.80) rotate(0) scale(1 1.1) translate(-358.70 -469.80)" >Predicted Interaction Probabilities</text>
<text x="242.60" y="457.60" font-family="'Liberation Sans', sans-serif" font-size="12.2" text-anchor="start" fill="#111" stroke="#111" stroke-width="0.15" transform="translate(242.60 457.60) rotate(0) scale(1 1.0) translate(-242.60 -457.60)" >g</text>
<text x="236.60" y="541.40" font-family="'Liberation Sans', sans-serif" font-size="9.15" text-anchor="middle" fill="#222" stroke="#222" stroke-width="0.22" transform="translate(236.60 541.40) rotate(-90) scale(1 1.1) translate(-236.60 -541.40)" >Protein</text>
<text x="247.80" y="540.50" font-family="'Liberation Sans', sans-serif" font-size="9.15" text-anchor="middle" fill="#222" stroke="#222" stroke-width="0.22" transform="translate(247.80 540.50) rotate(-90) scale(1 1.1) translate(-247.80 -540.50)" >s</text>
<text x="477.20" y="457.60" font-family="'Liberation Sans', sans-serif" font-size="11.5" text-anchor="start" fill="#111" stroke="#111" stroke-width="0.22" transform="translate(477.20 457.60) rotate(0) scale(1 1.1) translate(-477.20 -457.60)" >h</text>
<rect x="497.00" y="451.60" width="19.50" height="8.60" fill="#EB3B42" stroke="none" stroke-width="1" />
<text x="519.90" y="459.00" font-family="'Liberation Sans', sans-serif" font-size="9.1" text-anchor="start" fill="#222" stroke="#222" stroke-width="0.08" transform="translate(519.90 459.00) rotate(0) scale(1 1.0) translate(-519.90 -459.00)" >Immune response and immunoglobulin</text>
<rect x="497.00" y="462.82" width="19.50" height="8.60" fill="#3E74E2" stroke="none" stroke-width="1" />
<text x="519.90" y="470.22" font-family="'Liberation Sans', sans-serif" font-size="9.1" text-anchor="start" fill="#222" stroke="#222" stroke-width="0.08" transform="translate(519.90 470.22) rotate(0) scale(1 1.0) translate(-519.90 -470.22)" >SNARE-mediated vesicular transport</text>
<rect x="497.00" y="474.04" width="19.50" height="8.60" fill="#4DB46E" stroke="none" stroke-width="1" />
<text x="519.90" y="481.44" font-family="'Liberation Sans', sans-serif" font-size="9.1" text-anchor="start" fill="#222" stroke="#222" stroke-width="0.08" transform="translate(519.90 481.44) rotate(0) scale(1 1.0) translate(-519.90 -481.44)" >Redox activity</text>
<rect x="497.00" y="485.26" width="19.50" height="8.60" fill="#A871EA" stroke="none" stroke-width="1" />
<text x="519.90" y="492.66" font-family="'Liberation Sans', sans-serif" font-size="9.1" text-anchor="start" fill="#222" stroke="#222" stroke-width="0.08" transform="translate(519.90 492.66) rotate(0) scale(1 1.0) translate(-519.90 -492.66)" >Cell adhesion</text>
<rect x="497.00" y="496.48" width="19.50" height="8.60" fill="#C6972C" stroke="none" stroke-width="1" />
<text x="519.90" y="503.88" font-family="'Liberation Sans', sans-serif" font-size="9.1" text-anchor="start" fill="#222" stroke="#222" stroke-width="0.08" transform="translate(519.90 503.88) rotate(0) scale(1 1.0) translate(-519.90 -503.88)" >Galactoside binding</text>
<defs><linearGradient id="side" x1="0" x2="1" y1="0" y2="0"><stop offset="0" stop-color="#b83236"/><stop offset="0.45" stop-color="#a52a2e"/><stop offset="0.75" stop-color="#7e1d20"/><stop offset="1" stop-color="#5e1416"/></linearGradient></defs>
<polygon points="510.50,586.30 510.50,586.30 510.60,587.64 510.91,588.98 511.43,590.30 512.14,591.62 513.06,592.93 514.18,594.21 515.49,595.47 517.00,596.71 518.70,597.92 520.57,599.10 522.63,600.24 524.86,601.35 527.26,602.41 529.82,603.43 532.53,604.40 535.38,605.32 538.38,606.19 541.50,607.01 544.74,607.77 548.10,608.47 551.56,609.11 555.11,609.69 558.75,610.20 562.46,610.65 566.24,611.03 570.07,611.34 573.94,611.58 577.84,611.76 581.76,611.86 585.70,611.90 589.64,611.86 593.56,611.76 597.46,611.58 601.33,611.34 605.16,611.03 608.94,610.65 612.65,610.20 616.29,609.69 619.84,609.11 623.30,608.47 626.66,607.77 629.90,607.01 633.02,606.19 636.02,605.32 638.87,604.40 641.58,603.43 644.14,602.41 646.54,601.35 648.77,600.24 650.83,599.10 652.70,597.92 654.40,596.71 655.91,595.47 657.22,594.21 658.34,592.93 659.26,591.62 659.97,590.30 660.49,588.98 660.80,587.64 660.90,586.30 660.90,594.70 660.80,596.04 660.49,597.38 659.97,598.70 659.26,600.02 658.34,601.33 657.22,602.61 655.91,603.87 654.40,605.11 652.70,606.32 650.83,607.50 648.77,608.64 646.54,609.75 644.14,610.81 641.58,611.83 638.87,612.80 636.02,613.72 633.02,614.59 629.90,615.41 626.66,616.17 623.30,616.87 619.84,617.51 616.29,618.09 612.65,618.60 608.94,619.05 605.16,619.43 601.33,619.74 597.46,619.98 593.56,620.16 589.64,620.26 585.70,620.30 581.76,620.26 577.84,620.16 573.94,619.98 570.07,619.74 566.24,619.43 562.46,619.05 558.75,618.60 555.11,618.09 551.56,617.51 548.10,616.87 544.74,616.17 541.50,615.41 538.38,614.59 535.38,613.72 532.53,612.80 529.82,611.83 527.26,610.81 524.86,609.75 522.63,608.64 520.57,607.50 518.70,606.32 517.00,605.11 515.49,603.87 514.18,602.61 513.06,601.33 512.14,600.02 511.43,598.70 510.91,597.38 510.60,596.04 510.50,594.70" fill="url(#side)" stroke="none" stroke-width="1" stroke-linejoin="round" />
<polygon points="585.70,586.30 585.70,560.70 589.16,560.73 592.62,560.81 596.06,560.94 599.48,561.13 602.87,561.38 606.23,561.67 609.54,562.02 612.80,562.42 616.00,562.87 619.14,563.37 622.20,563.92 625.19,564.51 628.10,565.16 630.91,565.84 633.63,566.57 636.25,567.35 638.76,568.16 641.16,569.01 643.44,569.90 645.60,570.82 647.63,571.78 649.53,572.76 651.29,573.78 652.92,574.82 654.40,575.89 655.73,576.98 656.92,578.08 657.96,579.21 658.84,580.35 659.57,581.50 660.14,582.67 660.55,583.84 660.81,585.01 660.90,586.19 660.83,587.37 660.61,588.55 660.23,589.72 659.68,590.89 658.98,592.04 658.13,593.18 657.12,594.31 655.96,595.42 654.65,596.52 653.20,597.59 651.60,598.63 649.86,599.65 647.98,600.64 645.98,601.61 643.84,602.54 641.58,603.43 639.21,604.29 636.72,605.11 634.12,605.89 631.42,606.63 628.62,607.32 625.73,607.97 622.75,608.58 619.70,609.13 616.57,609.64 613.38,610.10 610.13,610.51 606.83,610.87 603.48,611.17 600.10,611.43 596.69,611.63 593.25,611.77 589.79,611.86 586.33,611.90 582.87,611.88 579.41,611.81 575.96,611.68 572.54,611.50 569.14,611.27 565.78,610.99 562.46,610.65 559.19,610.26 555.98,609.82 552.83,609.32 549.75,608.78 546.74,608.20 543.82,607.56 540.99,606.88 538.25,606.16 535.62,605.40 533.09,604.59 530.67,603.75 528.36,602.86 526.18,601.95 524.13,601.00 522.21,600.02 520.42,599.01 518.77,597.97 517.26,596.91 515.90,595.82 514.68,594.72 513.62,593.60 512.71,592.46 511.95,591.31 511.35,590.15 510.91,588.98 510.63,587.80 510.51,586.62 510.54,585.44 510.74,584.26 511.09,583.09 511.61,581.93 512.28,580.77 513.10,579.62 514.08,578.49 515.22,577.38 516.50,576.28 517.93,575.21 519.50,574.16 521.21,573.13 523.06,572.13 525.05,571.17 527.16,570.23 529.40,569.33 531.75,568.47 534.22,567.64" fill="#EC3E44" stroke="none" stroke-width="1" stroke-linejoin="round" />
<polyline points="510.50,586.30 510.53,586.97 510.60,587.64 510.73,588.31 510.91,588.98 511.14,589.64 511.43,590.30 511.76,590.97 512.14,591.62 512.58,592.28 513.06,592.93 513.60,593.57 514.18,594.21 514.81,594.85 515.49,595.47 516.22,596.10 517.00,596.71 517.83,597.32 518.70,597.92 519.61,598.52 520.57,599.10 521.58,599.68 522.63,600.24 523.73,600.80 524.86,601.35 526.04,601.88 527.26,602.41 528.52,602.93 529.82,603.43 531.15,603.92 532.53,604.40 533.94,604.87 535.38,605.32 536.86,605.77 538.38,606.19 539.92,606.61 541.50,607.01 543.11,607.40 544.74,607.77 546.41,608.13 548.10,608.47 549.82,608.80 551.56,609.11 553.33,609.41 555.11,609.69 556.92,609.95 558.75,610.20 560.60,610.43 562.46,610.65 564.34,610.85 566.24,611.03 568.14,611.19 570.07,611.34 572.00,611.47 573.94,611.58 575.88,611.68 577.84,611.76 579.80,611.82 581.76,611.86 583.73,611.89 585.70,611.90 587.67,611.89 589.64,611.86 591.60,611.82 593.56,611.76 595.52,611.68 597.46,611.58 599.40,611.47 601.33,611.34 603.26,611.19 605.16,611.03 607.06,610.85 608.94,610.65 610.80,610.43 612.65,610.20 614.48,609.95 616.29,609.69 618.07,609.41 619.84,609.11 621.58,608.80 623.30,608.47 624.99,608.13 626.66,607.77 628.29,607.40 629.90,607.01 631.48,606.61 633.02,606.19 634.54,605.77 636.02,605.32 637.46,604.87 638.87,604.40 640.25,603.92 641.58,603.43 642.88,602.93 644.14,602.41 645.36,601.88 646.54,601.35 647.67,600.80 648.77,600.24 649.82,599.68 650.83,599.10 651.79,598.52 652.70,597.92 653.57,597.32 654.40,596.71 655.18,596.10 655.91,595.47 656.59,594.85 657.22,594.21 657.80,593.57 658.34,592.93 658.82,592.28 659.26,591.62 659.64,590.97 659.97,590.30 660.26,589.64 660.49,588.98 660.67,588.31 660.80,587.64 660.87,586.97 660.90,586.30" fill="none" stroke="#ffffff" stroke-width="0.7" stroke-linejoin="round" stroke-linecap="round" opacity="0.85"/>
<polygon points="534.42,562.44 585.90,581.10 585.90,585.50 534.42,566.44" fill="#1b2e58" stroke="none" stroke-width="1" stroke-linejoin="round" />
<line x1="534.42" y1="562.44" x2="585.90" y2="581.10" stroke="#ffffff" stroke-width="0.6" />
<polygon points="585.90,581.10 569.50,556.12 567.54,556.27 565.60,556.45 563.68,556.64 561.77,556.85 559.87,557.08 558.00,557.33 556.14,557.59 554.31,557.87 552.50,558.16 550.71,558.48 548.95,558.80 547.21,559.15 545.51,559.51 543.83,559.88 542.18,560.27 540.56,560.68 538.97,561.10 537.42,561.53 535.90,561.98 534.42,562.44" fill="#3E74E2" stroke="none" stroke-width="1" stroke-linejoin="round" />
<polygon points="569.00,553.52 585.40,578.50 585.40,582.30 569.00,556.92" fill="#1e4a2a" stroke="none" stroke-width="1" stroke-linejoin="round" />
<line x1="569.00" y1="553.52" x2="585.40" y2="578.50" stroke="#ffffff" stroke-width="0.5" />
<polygon points="585.40,578.50 577.80,553.03 577.36,553.05 576.91,553.06 576.47,553.08 576.03,553.10 575.58,553.12 575.14,553.14 574.70,553.16 574.26,553.18 573.82,553.21 573.38,553.23 572.94,553.25 572.50,553.28 572.06,553.31 571.62,553.33 571.18,553.36 570.74,553.39 570.30,553.42 569.87,553.45 569.43,553.48 569.00,553.52" fill="#4DB46E" stroke="none" stroke-width="1" stroke-linejoin="round" />
<polygon points="585.40,575.80 581.60,550.23 580.65,550.25 579.70,550.27 578.75,550.30 577.80,550.33" fill="#A871EA" stroke="#3a2a5a" stroke-width="0.4" stroke-linejoin="round" />
<polygon points="585.50,560.30 583.00,541.20 585.80,541.20" fill="#C6972C" stroke="none" stroke-width="1" stroke-linejoin="round" />
<text x="535.70" y="555.90" font-family="'Liberation Sans', sans-serif" font-size="9.0" text-anchor="end" fill="#222" stroke="#222" stroke-width="0.08" transform="translate(535.70 555.90) rotate(0) scale(1 1.03) translate(-535.70 -555.90)" >8.5%</text>
<polyline points="536.30,552.80 542.00,552.60 556.00,562.10" fill="none" stroke="#444" stroke-width="0.6" stroke-linejoin="round" stroke-linecap="round" />
<text x="558.40" y="543.20" font-family="'Liberation Sans', sans-serif" font-size="9.0" text-anchor="end" fill="#222" stroke="#222" stroke-width="0.08" transform="translate(558.40 543.20) rotate(0) scale(1 1.03) translate(-558.40 -543.20)" >1.9%</text>
<polyline points="559.00,539.60 562.90,539.40 575.70,554.30" fill="none" stroke="#444" stroke-width="0.6" stroke-linejoin="round" stroke-linecap="round" />
<text x="570.80" y="529.80" font-family="'Liberation Sans', sans-serif" font-size="9.0" text-anchor="end" fill="#222" stroke="#222" stroke-width="0.08" transform="translate(570.80 529.80) rotate(0) scale(1 1.03) translate(-570.80 -529.80)" >0.8%</text>
<polyline points="571.40,526.60 574.20,526.60 580.80,547.70" fill="none" stroke="#444" stroke-width="0.6" stroke-linejoin="round" stroke-linecap="round" />
<text x="591.40" y="537.20" font-family="'Liberation Sans', sans-serif" font-size="9.0" text-anchor="start" fill="#222" stroke="#222" stroke-width="0.08" transform="translate(591.40 537.20) rotate(0) scale(1 1.03) translate(-591.40 -537.20)" >0.8%</text>
<polyline points="591.00,533.10 589.50,533.40 588.10,535.00 584.80,544.10" fill="none" stroke="#444" stroke-width="0.6" stroke-linejoin="round" stroke-linecap="round" />
<text x="609.50" y="593.20" font-family="'Liberation Sans', sans-serif" font-size="9.0" text-anchor="middle" fill="#222" stroke="#222" stroke-width="0.08" transform="translate(609.50 593.20) rotate(0) scale(1 1.03) translate(-609.50 -593.20)" >88.1%</text>
</svg>
</body></html>
